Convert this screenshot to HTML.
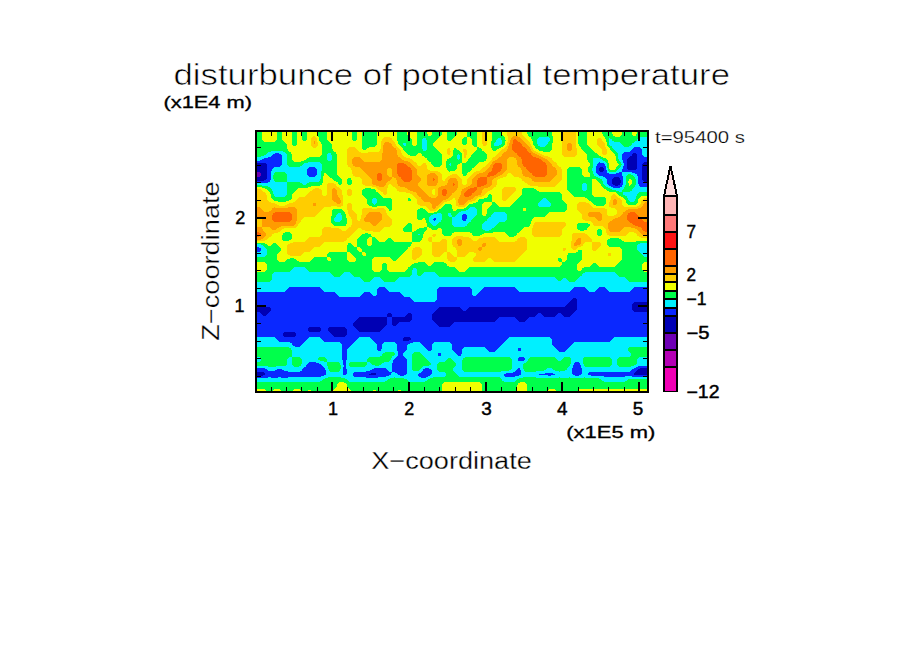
<!DOCTYPE html>
<html><head><meta charset="utf-8"><style>
html,body{margin:0;padding:0;background:#fff;}
body{width:904px;height:654px;overflow:hidden;}
svg{display:block;}
text{font-family:"Liberation Sans", sans-serif;fill:#000;}
</style></head><body>
<svg width="904" height="654" viewBox="0 0 904 654" shape-rendering="crispEdges">
<rect width="904" height="654" fill="#fff"/>
<g>
<path fill="#00ff4b" d="M257 132h5v1h-5zM277 132h5v1h-5zM292 132h5v1h-5zM302 132h5v1h-5zM317 132h10v1h-10zM352 132h5v1h-5zM362 132h15v1h-15zM397 132h10v1h-10zM417 132h10v1h-10zM432 132h10v1h-10zM447 132h10v1h-10zM467 132h10v1h-10zM492 132h10v1h-10zM527 132h25v1h-25zM578 132h9v1h-9zM602 132h10v1h-10zM622 132h10v1h-10zM637 132h10v1h-10zM257 133h5v1h-5zM277 133h5v1h-5zM292 133h5v1h-5zM302 133h5v1h-5zM317 133h10v1h-10zM352 133h5v1h-5zM362 133h15v1h-15zM397 133h10v1h-10zM417 133h10v1h-10zM432 133h10v1h-10zM447 133h10v1h-10zM467 133h10v1h-10zM492 133h10v1h-10zM527 133h25v1h-25zM578 133h9v1h-9zM602 133h10v1h-10zM622 133h10v1h-10zM637 133h10v1h-10zM257 134h5v1h-5zM277 134h5v1h-5zM292 134h5v1h-5zM302 134h5v1h-5zM317 134h10v1h-10zM352 134h5v1h-5zM362 134h15v1h-15zM397 134h10v1h-10zM417 134h11v1h-11zM432 134h10v1h-10zM447 134h10v1h-10zM467 134h10v1h-10zM492 134h10v1h-10zM528 134h24v1h-24zM578 134h9v1h-9zM603 134h10v1h-10zM622 134h10v1h-10zM636 134h11v1h-11zM257 135h5v1h-5zM277 135h5v1h-5zM292 135h5v1h-5zM302 135h5v1h-5zM318 135h9v1h-9zM352 135h5v1h-5zM362 135h15v1h-15zM397 135h11v1h-11zM417 135h11v1h-11zM431 135h10v1h-10zM447 135h9v1h-9zM467 135h10v1h-10zM492 135h11v1h-11zM528 135h24v1h-24zM578 135h9v1h-9zM603 135h10v1h-10zM621 135h12v1h-12zM636 135h11v1h-11zM257 136h5v1h-5zM277 136h5v1h-5zM292 136h5v1h-5zM302 136h5v1h-5zM318 136h9v1h-9zM352 136h5v1h-5zM362 136h15v1h-15zM397 136h12v1h-12zM417 136h23v1h-23zM447 136h8v1h-8zM467 136h10v1h-10zM492 136h12v1h-12zM529 136h24v1h-24zM578 136h9v1h-9zM604 136h11v1h-11zM620 136h27v1h-27zM257 137h5v1h-5zM277 137h5v1h-5zM292 137h5v1h-5zM302 137h5v1h-5zM319 137h8v1h-8zM352 137h5v1h-5zM362 137h15v1h-15zM397 137h13v1h-13zM417 137h22v1h-22zM447 137h7v1h-7zM464 137h3v1h-3zM470 137h7v1h-7zM492 137h13v1h-13zM531 137h8v1h-8zM549 137h4v1h-4zM578 137h9v1h-9zM605 137h35v1h-35zM257 138h5v1h-5zM277 138h5v1h-5zM292 138h5v1h-5zM302 138h5v1h-5zM319 138h8v1h-8zM352 138h5v1h-5zM362 138h15v1h-15zM397 138h14v1h-14zM417 138h6v1h-6zM426 138h12v1h-12zM447 138h6v1h-6zM463 138h4v1h-4zM471 138h6v1h-6zM492 138h6v1h-6zM501 138h4v1h-4zM531 138h7v1h-7zM550 138h3v1h-3zM578 138h9v1h-9zM605 138h4v1h-4zM610 138h28v1h-28zM257 139h5v1h-5zM277 139h5v1h-5zM292 139h5v1h-5zM302 139h5v1h-5zM319 139h8v1h-8zM352 139h5v1h-5zM362 139h15v1h-15zM397 139h15v1h-15zM417 139h5v1h-5zM426 139h11v1h-11zM447 139h5v1h-5zM462 139h5v1h-5zM472 139h5v1h-5zM492 139h5v1h-5zM501 139h4v1h-4zM532 139h5v1h-5zM550 139h3v1h-3zM578 139h9v1h-9zM606 139h3v1h-3zM612 139h25v1h-25zM257 140h6v1h-6zM276 140h7v1h-7zM292 140h5v1h-5zM303 140h3v1h-3zM319 140h9v1h-9zM353 140h3v1h-3zM362 140h15v1h-15zM397 140h15v1h-15zM417 140h5v1h-5zM427 140h9v1h-9zM448 140h3v1h-3zM462 140h5v1h-5zM472 140h5v1h-5zM492 140h4v1h-4zM502 140h4v1h-4zM532 140h5v1h-5zM550 140h3v1h-3zM578 140h9v1h-9zM606 140h3v1h-3zM612 140h25v1h-25zM257 141h7v1h-7zM275 141h9v1h-9zM292 141h5v1h-5zM320 141h9v1h-9zM362 141h15v1h-15zM398 141h14v1h-14zM417 141h5v1h-5zM427 141h8v1h-8zM462 141h5v1h-5zM472 141h5v1h-5zM491 141h5v1h-5zM502 141h3v1h-3zM533 141h4v1h-4zM549 141h4v1h-4zM578 141h9v1h-9zM606 141h3v1h-3zM614 141h21v1h-21zM257 142h28v1h-28zM292 142h5v1h-5zM321 142h9v1h-9zM362 142h15v1h-15zM398 142h14v1h-14zM417 142h5v1h-5zM427 142h7v1h-7zM462 142h5v1h-5zM472 142h5v1h-5zM491 142h4v1h-4zM502 142h3v1h-3zM533 142h4v1h-4zM548 142h5v1h-5zM578 142h9v1h-9zM607 142h2v1h-2zM620 142h14v1h-14zM257 143h29v1h-29zM292 143h5v1h-5zM321 143h10v1h-10zM362 143h15v1h-15zM398 143h5v1h-5zM406 143h6v1h-6zM417 143h5v1h-5zM427 143h6v1h-6zM462 143h5v1h-5zM472 143h5v1h-5zM491 143h3v1h-3zM502 143h3v1h-3zM533 143h4v1h-4zM548 143h4v1h-4zM578 143h9v1h-9zM607 143h2v1h-2zM621 143h11v1h-11zM257 144h30v1h-30zM292 144h5v1h-5zM322 144h10v1h-10zM362 144h15v1h-15zM399 144h4v1h-4zM406 144h6v1h-6zM417 144h5v1h-5zM427 144h6v1h-6zM463 144h3v1h-3zM472 144h5v1h-5zM491 144h3v1h-3zM501 144h4v1h-4zM533 144h5v1h-5zM547 144h5v1h-5zM579 144h8v1h-8zM607 144h2v1h-2zM622 144h10v1h-10zM257 145h30v1h-30zM293 145h3v1h-3zM322 145h10v1h-10zM362 145h14v1h-14zM400 145h4v1h-4zM406 145h7v1h-7zM416 145h6v1h-6zM427 145h6v1h-6zM473 145h4v1h-4zM491 145h3v1h-3zM499 145h5v1h-5zM534 145h4v1h-4zM546 145h6v1h-6zM579 145h9v1h-9zM607 145h3v1h-3zM623 145h8v1h-8zM257 146h30v1h-30zM322 146h10v1h-10zM362 146h13v1h-13zM401 146h21v1h-21zM427 146h7v1h-7zM474 146h3v1h-3zM491 146h12v1h-12zM535 146h5v1h-5zM545 146h7v1h-7zM580 146h9v1h-9zM608 146h4v1h-4zM624 146h5v1h-5zM257 147h30v1h-30zM322 147h10v1h-10zM362 147h7v1h-7zM402 147h20v1h-20zM427 147h8v1h-8zM477 147h2v1h-2zM491 147h10v1h-10zM535 147h17v1h-17zM581 147h9v1h-9zM609 147h3v1h-3zM257 148h30v1h-30zM322 148h10v1h-10zM362 148h5v1h-5zM403 148h19v1h-19zM427 148h9v1h-9zM454 148h2v1h-2zM477 148h4v1h-4zM492 148h7v1h-7zM536 148h16v1h-16zM581 148h10v1h-10zM610 148h3v1h-3zM257 149h31v1h-31zM322 149h11v1h-11zM363 149h3v1h-3zM403 149h20v1h-20zM427 149h10v1h-10zM454 149h3v1h-3zM477 149h5v1h-5zM492 149h5v1h-5zM538 149h14v1h-14zM582 149h10v1h-10zM610 149h4v1h-4zM257 150h31v1h-31zM322 150h11v1h-11zM404 150h19v1h-19zM426 150h12v1h-12zM453 150h6v1h-6zM476 150h6v1h-6zM493 150h3v1h-3zM539 150h12v1h-12zM583 150h10v1h-10zM611 150h4v1h-4zM257 151h14v1h-14zM283 151h6v1h-6zM322 151h12v1h-12zM405 151h34v1h-34zM453 151h7v1h-7zM475 151h9v1h-9zM543 151h7v1h-7zM584 151h10v1h-10zM612 151h4v1h-4zM257 152h11v1h-11zM285 152h6v1h-6zM322 152h14v1h-14zM406 152h34v1h-34zM453 152h8v1h-8zM474 152h11v1h-11zM585 152h10v1h-10zM613 152h4v1h-4zM257 153h10v1h-10zM286 153h5v1h-5zM322 153h6v1h-6zM331 153h5v1h-5zM407 153h11v1h-11zM421 153h20v1h-20zM453 153h9v1h-9zM473 153h13v1h-13zM586 153h11v1h-11zM614 153h4v1h-4zM257 154h9v1h-9zM287 154h5v1h-5zM322 154h5v1h-5zM331 154h6v1h-6zM408 154h9v1h-9zM422 154h20v1h-20zM453 154h5v1h-5zM459 154h3v1h-3zM472 154h15v1h-15zM587 154h11v1h-11zM615 154h3v1h-3zM257 155h7v1h-7zM287 155h5v1h-5zM321 155h6v1h-6zM332 155h5v1h-5zM410 155h6v1h-6zM422 155h20v1h-20zM453 155h4v1h-4zM460 155h2v1h-2zM471 155h16v1h-16zM587 155h12v1h-12zM615 155h3v1h-3zM257 156h4v1h-4zM287 156h5v1h-5zM320 156h7v1h-7zM332 156h5v1h-5zM424 156h18v1h-18zM452 156h5v1h-5zM460 156h2v1h-2zM471 156h16v1h-16zM587 156h14v1h-14zM616 156h2v1h-2zM287 157h5v1h-5zM309 157h18v1h-18zM332 157h5v1h-5zM425 157h17v1h-17zM451 157h6v1h-6zM460 157h2v1h-2zM470 157h17v1h-17zM587 157h16v1h-16zM616 157h2v1h-2zM287 158h5v1h-5zM307 158h20v1h-20zM332 158h5v1h-5zM427 158h15v1h-15zM449 158h8v1h-8zM460 158h2v1h-2zM469 158h18v1h-18zM587 158h6v1h-6zM600 158h6v1h-6zM616 158h2v1h-2zM287 159h5v1h-5zM306 159h21v1h-21zM332 159h5v1h-5zM427 159h15v1h-15zM447 159h11v1h-11zM459 159h3v1h-3zM468 159h18v1h-18zM587 159h6v1h-6zM602 159h5v1h-5zM616 159h3v1h-3zM287 160h6v1h-6zM304 160h24v1h-24zM331 160h6v1h-6zM428 160h14v1h-14zM447 160h15v1h-15zM468 160h18v1h-18zM588 160h5v1h-5zM603 160h5v1h-5zM616 160h3v1h-3zM287 161h7v1h-7zM301 161h36v1h-36zM429 161h13v1h-13zM446 161h16v1h-16zM467 161h17v1h-17zM588 161h5v1h-5zM605 161h3v1h-3zM617 161h3v1h-3zM287 162h21v1h-21zM320 162h17v1h-17zM431 162h11v1h-11zM446 162h16v1h-16zM466 162h13v1h-13zM589 162h4v1h-4zM606 162h2v1h-2zM617 162h4v1h-4zM287 163h17v1h-17zM321 163h16v1h-16zM431 163h11v1h-11zM446 163h4v1h-4zM451 163h9v1h-9zM462 163h16v1h-16zM590 163h3v1h-3zM607 163h2v1h-2zM618 163h3v1h-3zM287 164h16v1h-16zM322 164h15v1h-15zM432 164h10v1h-10zM446 164h3v1h-3zM451 164h7v1h-7zM462 164h15v1h-15zM590 164h3v1h-3zM607 164h2v1h-2zM619 164h3v1h-3zM288 165h14v1h-14zM322 165h15v1h-15zM433 165h8v1h-8zM446 165h4v1h-4zM451 165h6v1h-6zM462 165h14v1h-14zM590 165h3v1h-3zM607 165h2v1h-2zM618 165h3v1h-3zM289 166h11v1h-11zM322 166h15v1h-15zM434 166h6v1h-6zM446 166h11v1h-11zM462 166h13v1h-13zM589 166h4v1h-4zM607 166h2v1h-2zM617 166h4v1h-4zM322 167h15v1h-15zM446 167h11v1h-11zM462 167h12v1h-12zM569 167h11v1h-11zM588 167h5v1h-5zM607 167h2v1h-2zM616 167h4v1h-4zM322 168h15v1h-15zM447 168h10v1h-10zM462 168h10v1h-10zM568 168h13v1h-13zM588 168h4v1h-4zM608 168h1v1h-1zM616 168h3v1h-3zM322 169h15v1h-15zM447 169h9v1h-9zM462 169h10v1h-10zM567 169h15v1h-15zM588 169h4v1h-4zM608 169h2v1h-2zM615 169h3v1h-3zM322 170h15v1h-15zM448 170h7v1h-7zM462 170h9v1h-9zM567 170h15v1h-15zM588 170h4v1h-4zM608 170h9v1h-9zM321 171h16v1h-16zM449 171h1v1h-1zM462 171h8v1h-8zM567 171h15v1h-15zM588 171h5v1h-5zM609 171h7v1h-7zM275 172h10v1h-10zM321 172h16v1h-16zM462 172h6v1h-6zM567 172h15v1h-15zM589 172h4v1h-4zM274 173h12v1h-12zM321 173h3v1h-3zM326 173h11v1h-11zM462 173h5v1h-5zM567 173h15v1h-15zM590 173h3v1h-3zM274 174h13v1h-13zM321 174h3v1h-3zM327 174h10v1h-10zM463 174h4v1h-4zM567 174h15v1h-15zM590 174h4v1h-4zM628 174h3v1h-3zM273 175h14v1h-14zM321 175h3v1h-3zM328 175h10v1h-10zM463 175h3v1h-3zM567 175h16v1h-16zM590 175h4v1h-4zM627 175h6v1h-6zM273 176h14v1h-14zM321 176h2v1h-2zM329 176h10v1h-10zM567 176h17v1h-17zM590 176h6v1h-6zM626 176h8v1h-8zM273 177h14v1h-14zM321 177h2v1h-2zM330 177h10v1h-10zM567 177h31v1h-31zM626 177h9v1h-9zM273 178h14v1h-14zM321 178h2v1h-2zM332 178h9v1h-9zM348 178h3v1h-3zM567 178h33v1h-33zM626 178h9v1h-9zM274 179h13v1h-13zM320 179h3v1h-3zM333 179h9v1h-9zM347 179h4v1h-4zM567 179h25v1h-25zM596 179h6v1h-6zM626 179h3v1h-3zM631 179h5v1h-5zM274 180h13v1h-13zM320 180h3v1h-3zM334 180h8v1h-8zM347 180h5v1h-5zM567 180h25v1h-25zM597 180h5v1h-5zM626 180h3v1h-3zM632 180h4v1h-4zM275 181h12v1h-12zM319 181h4v1h-4zM336 181h6v1h-6zM347 181h5v1h-5zM567 181h25v1h-25zM598 181h5v1h-5zM626 181h2v1h-2zM632 181h4v1h-4zM287 182h13v1h-13zM309 182h14v1h-14zM338 182h4v1h-4zM347 182h5v1h-5zM567 182h25v1h-25zM599 182h4v1h-4zM626 182h2v1h-2zM632 182h4v1h-4zM287 183h15v1h-15zM307 183h15v1h-15zM338 183h4v1h-4zM347 183h5v1h-5zM567 183h16v1h-16zM586 183h6v1h-6zM600 183h3v1h-3zM626 183h3v1h-3zM632 183h4v1h-4zM287 184h16v1h-16zM306 184h16v1h-16zM339 184h2v1h-2zM348 184h3v1h-3zM567 184h15v1h-15zM587 184h5v1h-5zM601 184h3v1h-3zM626 184h3v1h-3zM631 184h5v1h-5zM257 185h5v1h-5zM287 185h33v1h-33zM567 185h15v1h-15zM587 185h5v1h-5zM601 185h4v1h-4zM625 185h4v1h-4zM630 185h5v1h-5zM257 186h11v1h-11zM287 186h24v1h-24zM567 186h15v1h-15zM587 186h5v1h-5zM602 186h4v1h-4zM625 186h10v1h-10zM262 187h8v1h-8zM287 187h21v1h-21zM567 187h15v1h-15zM587 187h5v1h-5zM603 187h5v1h-5zM624 187h10v1h-10zM265 188h6v1h-6zM287 188h11v1h-11zM365 188h6v1h-6zM523 188h11v1h-11zM567 188h15v1h-15zM587 188h5v1h-5zM604 188h6v1h-6zM624 188h9v1h-9zM267 189h5v1h-5zM287 189h10v1h-10zM363 189h12v1h-12zM522 189h14v1h-14zM567 189h15v1h-15zM587 189h5v1h-5zM606 189h6v1h-6zM623 189h9v1h-9zM268 190h4v1h-4zM287 190h9v1h-9zM362 190h14v1h-14zM522 190h15v1h-15zM568 190h15v1h-15zM586 190h6v1h-6zM607 190h9v1h-9zM622 190h10v1h-10zM269 191h4v1h-4zM287 191h8v1h-8zM362 191h14v1h-14zM522 191h17v1h-17zM569 191h23v1h-23zM609 191h10v1h-10zM622 191h8v1h-8zM270 192h3v1h-3zM287 192h7v1h-7zM362 192h16v1h-16zM522 192h38v1h-38zM570 192h22v1h-22zM616 192h7v1h-7zM639 192h8v1h-8zM270 193h3v1h-3zM287 193h6v1h-6zM362 193h17v1h-17zM522 193h39v1h-39zM571 193h21v1h-21zM617 193h6v1h-6zM638 193h9v1h-9zM271 194h3v1h-3zM287 194h5v1h-5zM362 194h18v1h-18zM489 194h2v1h-2zM522 194h40v1h-40zM572 194h20v1h-20zM618 194h5v1h-5zM637 194h10v1h-10zM271 195h3v1h-3zM286 195h6v1h-6zM363 195h18v1h-18zM488 195h4v1h-4zM521 195h41v1h-41zM573 195h20v1h-20zM619 195h6v1h-6zM637 195h10v1h-10zM271 196h4v1h-4zM285 196h7v1h-7zM364 196h18v1h-18zM488 196h4v1h-4zM520 196h42v1h-42zM574 196h20v1h-20zM621 196h6v1h-6zM636 196h5v1h-5zM271 197h21v1h-21zM365 197h18v1h-18zM487 197h5v1h-5zM519 197h43v1h-43zM585 197h20v1h-20zM623 197h4v1h-4zM636 197h4v1h-4zM272 198h20v1h-20zM366 198h7v1h-7zM376 198h15v1h-15zM408 198h2v1h-2zM484 198h8v1h-8zM518 198h25v1h-25zM546 198h16v1h-16zM587 198h19v1h-19zM624 198h4v1h-4zM636 198h3v1h-3zM273 199h18v1h-18zM367 199h5v1h-5zM377 199h15v1h-15zM408 199h3v1h-3zM479 199h13v1h-13zM517 199h25v1h-25zM547 199h15v1h-15zM588 199h18v1h-18zM625 199h3v1h-3zM635 199h3v1h-3zM274 200h15v1h-15zM367 200h5v1h-5zM377 200h15v1h-15zM408 200h3v1h-3zM478 200h14v1h-14zM516 200h25v1h-25zM548 200h15v1h-15zM589 200h17v1h-17zM626 200h3v1h-3zM635 200h3v1h-3zM278 201h8v1h-8zM367 201h5v1h-5zM377 201h15v1h-15zM478 201h14v1h-14zM515 201h25v1h-25zM549 201h15v1h-15zM591 201h15v1h-15zM626 201h4v1h-4zM634 201h4v1h-4zM367 202h5v1h-5zM377 202h15v1h-15zM476 202h8v1h-8zM492 202h3v1h-3zM514 202h25v1h-25zM550 202h15v1h-15zM592 202h14v1h-14zM626 202h12v1h-12zM367 203h6v1h-6zM376 203h16v1h-16zM473 203h10v1h-10zM492 203h4v1h-4zM513 203h25v1h-25zM551 203h15v1h-15zM593 203h13v1h-13zM627 203h10v1h-10zM368 204h6v1h-6zM375 204h17v1h-17zM445 204h6v1h-6zM469 204h13v1h-13zM492 204h5v1h-5zM512 204h26v1h-26zM551 204h16v1h-16zM594 204h11v1h-11zM628 204h8v1h-8zM369 205h23v1h-23zM444 205h8v1h-8zM468 205h14v1h-14zM491 205h7v1h-7zM511 205h27v1h-27zM551 205h16v1h-16zM596 205h8v1h-8zM372 206h5v1h-5zM386 206h6v1h-6zM443 206h9v1h-9zM467 206h15v1h-15zM490 206h9v1h-9zM510 206h29v1h-29zM550 206h17v1h-17zM387 207h5v1h-5zM442 207h10v1h-10zM466 207h4v1h-4zM475 207h7v1h-7zM489 207h78v1h-78zM388 208h4v1h-4zM420 208h3v1h-3zM441 208h11v1h-11zM464 208h5v1h-5zM476 208h6v1h-6zM488 208h35v1h-35zM526 208h41v1h-41zM333 209h9v1h-9zM389 209h3v1h-3zM418 209h7v1h-7zM439 209h14v1h-14zM457 209h11v1h-11zM477 209h5v1h-5zM487 209h36v1h-36zM526 209h41v1h-41zM332 210h11v1h-11zM389 210h2v1h-2zM417 210h9v1h-9zM438 210h15v1h-15zM456 210h10v1h-10zM477 210h5v1h-5zM487 210h36v1h-36zM526 210h40v1h-40zM332 211h12v1h-12zM417 211h10v1h-10zM437 211h24v1h-24zM477 211h5v1h-5zM487 211h78v1h-78zM332 212h13v1h-13zM417 212h11v1h-11zM434 212h25v1h-25zM477 212h5v1h-5zM487 212h7v1h-7zM505 212h44v1h-44zM332 213h6v1h-6zM341 213h4v1h-4zM417 213h20v1h-20zM441 213h7v1h-7zM451 213h7v1h-7zM477 213h5v1h-5zM487 213h6v1h-6zM506 213h42v1h-42zM332 214h5v1h-5zM341 214h5v1h-5zM417 214h16v1h-16zM442 214h6v1h-6zM451 214h6v1h-6zM477 214h5v1h-5zM486 214h6v1h-6zM507 214h40v1h-40zM332 215h4v1h-4zM342 215h4v1h-4zM417 215h14v1h-14zM442 215h6v1h-6zM452 215h4v1h-4zM476 215h7v1h-7zM486 215h5v1h-5zM507 215h39v1h-39zM331 216h5v1h-5zM342 216h4v1h-4zM417 216h13v1h-13zM442 216h7v1h-7zM452 216h3v1h-3zM475 216h16v1h-16zM507 216h38v1h-38zM331 217h4v1h-4zM342 217h4v1h-4zM417 217h12v1h-12zM442 217h10v1h-10zM474 217h15v1h-15zM507 217h27v1h-27zM331 218h3v1h-3zM342 218h5v1h-5zM417 218h6v1h-6zM425 218h4v1h-4zM442 218h10v1h-10zM473 218h15v1h-15zM507 218h26v1h-26zM331 219h3v1h-3zM342 219h5v1h-5zM418 219h4v1h-4zM425 219h4v1h-4zM442 219h10v1h-10zM472 219h15v1h-15zM507 219h25v1h-25zM331 220h3v1h-3zM341 220h6v1h-6zM426 220h3v1h-3zM441 220h11v1h-11zM471 220h16v1h-16zM506 220h26v1h-26zM331 221h4v1h-4zM340 221h7v1h-7zM426 221h3v1h-3zM441 221h11v1h-11zM471 221h14v1h-14zM505 221h26v1h-26zM331 222h16v1h-16zM426 222h4v1h-4zM439 222h13v1h-13zM469 222h15v1h-15zM499 222h32v1h-32zM332 223h15v1h-15zM408 223h3v1h-3zM427 223h4v1h-4zM438 223h14v1h-14zM468 223h15v1h-15zM498 223h33v1h-33zM578 223h10v1h-10zM333 224h13v1h-13zM407 224h5v1h-5zM427 224h5v1h-5zM437 224h15v1h-15zM467 224h15v1h-15zM497 224h33v1h-33zM577 224h13v1h-13zM334 225h12v1h-12zM406 225h6v1h-6zM427 225h6v1h-6zM436 225h17v1h-17zM467 225h15v1h-15zM496 225h34v1h-34zM577 225h13v1h-13zM405 226h7v1h-7zM427 226h27v1h-27zM465 226h17v1h-17zM495 226h34v1h-34zM577 226h12v1h-12zM404 227h8v1h-8zM424 227h3v1h-3zM429 227h53v1h-53zM494 227h30v1h-30zM577 227h11v1h-11zM403 228h9v1h-9zM419 228h8v1h-8zM431 228h7v1h-7zM441 228h41v1h-41zM492 228h31v1h-31zM577 228h10v1h-10zM403 229h9v1h-9zM417 229h10v1h-10zM432 229h5v1h-5zM442 229h41v1h-41zM491 229h31v1h-31zM578 229h9v1h-9zM598 229h3v1h-3zM403 230h9v1h-9zM416 230h10v1h-10zM442 230h43v1h-43zM489 230h32v1h-32zM580 230h4v1h-4zM597 230h5v1h-5zM404 231h8v1h-8zM414 231h11v1h-11zM442 231h78v1h-78zM597 231h5v1h-5zM285 232h5v1h-5zM412 232h12v1h-12zM442 232h12v1h-12zM470 232h23v1h-23zM505 232h14v1h-14zM597 232h5v1h-5zM283 233h8v1h-8zM365 233h3v1h-3zM412 233h12v1h-12zM442 233h10v1h-10zM472 233h12v1h-12zM506 233h11v1h-11zM597 233h5v1h-5zM283 234h9v1h-9zM362 234h9v1h-9zM412 234h6v1h-6zM420 234h3v1h-3zM443 234h9v1h-9zM472 234h10v1h-10zM507 234h10v1h-10zM597 234h5v1h-5zM282 235h10v1h-10zM361 235h10v1h-10zM412 235h11v1h-11zM444 235h7v1h-7zM473 235h7v1h-7zM508 235h8v1h-8zM598 235h3v1h-3zM282 236h10v1h-10zM360 236h12v1h-12zM412 236h11v1h-11zM509 236h5v1h-5zM282 237h10v1h-10zM359 237h10v1h-10zM372 237h3v1h-3zM412 237h11v1h-11zM282 238h10v1h-10zM358 238h10v1h-10zM372 238h4v1h-4zM388 238h3v1h-3zM412 238h10v1h-10zM610 238h9v1h-9zM282 239h9v1h-9zM357 239h10v1h-10zM372 239h5v1h-5zM387 239h5v1h-5zM412 239h10v1h-10zM608 239h13v1h-13zM283 240h6v1h-6zM357 240h10v1h-10zM372 240h6v1h-6zM386 240h7v1h-7zM412 240h9v1h-9zM607 240h15v1h-15zM357 241h10v1h-10zM372 241h7v1h-7zM385 241h9v1h-9zM412 241h8v1h-8zM607 241h17v1h-17zM636 241h11v1h-11zM357 242h10v1h-10zM372 242h40v1h-40zM607 242h40v1h-40zM257 243h8v1h-8zM273 243h3v1h-3zM348 243h3v1h-3zM357 243h10v1h-10zM372 243h40v1h-40zM607 243h33v1h-33zM261 244h6v1h-6zM272 244h5v1h-5zM348 244h4v1h-4zM357 244h10v1h-10zM372 244h39v1h-39zM607 244h31v1h-31zM263 245h5v1h-5zM271 245h7v1h-7zM347 245h6v1h-6zM357 245h11v1h-11zM371 245h40v1h-40zM608 245h29v1h-29zM264 246h15v1h-15zM347 246h7v1h-7zM357 246h53v1h-53zM609 246h28v1h-28zM265 247h15v1h-15zM347 247h10v1h-10zM360 247h48v1h-48zM620 247h17v1h-17zM266 248h15v1h-15zM347 248h10v1h-10zM361 248h47v1h-47zM621 248h16v1h-16zM267 249h14v1h-14zM347 249h10v1h-10zM362 249h45v1h-45zM622 249h15v1h-15zM267 250h14v1h-14zM347 250h11v1h-11zM362 250h44v1h-44zM578 250h4v1h-4zM622 250h16v1h-16zM267 251h13v1h-13zM347 251h12v1h-12zM362 251h43v1h-43zM578 251h4v1h-4zM622 251h17v1h-17zM267 252h12v1h-12zM329 252h18v1h-18zM350 252h12v1h-12zM365 252h39v1h-39zM576 252h6v1h-6zM622 252h18v1h-18zM267 253h11v1h-11zM328 253h19v1h-19zM351 253h11v1h-11zM366 253h37v1h-37zM568 253h14v1h-14zM622 253h19v1h-19zM267 254h10v1h-10zM327 254h20v1h-20zM352 254h10v1h-10zM366 254h36v1h-36zM568 254h14v1h-14zM622 254h20v1h-20zM266 255h11v1h-11zM327 255h20v1h-20zM353 255h10v1h-10zM366 255h35v1h-35zM567 255h15v1h-15zM622 255h21v1h-21zM265 256h12v1h-12zM327 256h20v1h-20zM354 256h46v1h-46zM567 256h15v1h-15zM622 256h22v1h-22zM257 257h20v1h-20zM314 257h13v1h-13zM330 257h17v1h-17zM355 257h19v1h-19zM390 257h9v1h-9zM567 257h15v1h-15zM622 257h25v1h-25zM257 258h20v1h-20zM290 258h4v1h-4zM313 258h14v1h-14zM331 258h16v1h-16zM356 258h17v1h-17zM391 258h7v1h-7zM558 258h3v1h-3zM567 258h15v1h-15zM622 258h25v1h-25zM257 259h20v1h-20zM287 259h9v1h-9zM312 259h15v1h-15zM331 259h16v1h-16zM356 259h16v1h-16zM392 259h5v1h-5zM558 259h4v1h-4zM567 259h15v1h-15zM622 259h25v1h-25zM257 260h21v1h-21zM286 260h11v1h-11zM311 260h17v1h-17zM331 260h17v1h-17zM356 260h16v1h-16zM393 260h3v1h-3zM558 260h4v1h-4zM566 260h15v1h-15zM621 260h26v1h-26zM257 261h22v1h-22zM285 261h14v1h-14zM310 261h39v1h-39zM355 261h17v1h-17zM559 261h3v1h-3zM565 261h15v1h-15zM620 261h27v1h-27zM265 262h107v1h-107zM418 262h7v1h-7zM434 262h10v1h-10zM562 262h17v1h-17zM619 262h25v1h-25zM266 263h106v1h-106zM383 263h3v1h-3zM414 263h12v1h-12zM433 263h13v1h-13zM562 263h16v1h-16zM593 263h3v1h-3zM618 263h25v1h-25zM267 264h105v1h-105zM382 264h5v1h-5zM412 264h15v1h-15zM432 264h15v1h-15zM562 264h15v1h-15zM592 264h5v1h-5zM617 264h25v1h-25zM267 265h105v1h-105zM382 265h5v1h-5zM411 265h17v1h-17zM431 265h16v1h-16zM561 265h16v1h-16zM591 265h7v1h-7zM616 265h26v1h-26zM267 266h105v1h-105zM382 266h5v1h-5zM410 266h39v1h-39zM560 266h17v1h-17zM590 266h9v1h-9zM615 266h27v1h-27zM267 267h27v1h-27zM305 267h67v1h-67zM382 267h5v1h-5zM408 267h47v1h-47zM469 267h108v1h-108zM584 267h58v1h-58zM267 268h26v1h-26zM306 268h66v1h-66zM382 268h5v1h-5zM408 268h5v1h-5zM416 268h40v1h-40zM468 268h109v1h-109zM582 268h60v1h-60zM267 269h25v1h-25zM307 269h65v1h-65zM382 269h5v1h-5zM407 269h6v1h-6zM417 269h40v1h-40zM467 269h110v1h-110zM582 269h60v1h-60zM266 270h25v1h-25zM308 270h65v1h-65zM381 270h7v1h-7zM406 270h6v1h-6zM417 270h41v1h-41zM466 270h112v1h-112zM581 270h62v1h-62zM265 271h25v1h-25zM309 271h65v1h-65zM380 271h9v1h-9zM405 271h7v1h-7zM417 271h42v1h-42zM465 271h179v1h-179zM257 272h17v1h-17zM330 272h14v1h-14zM350 272h62v1h-62zM417 272h7v1h-7zM435 272h150v1h-150zM615 272h32v1h-32zM257 273h16v1h-16zM331 273h12v1h-12zM351 273h61v1h-61zM417 273h6v1h-6zM436 273h147v1h-147zM616 273h31v1h-31zM257 274h15v1h-15zM332 274h10v1h-10zM352 274h60v1h-60zM417 274h5v1h-5zM437 274h145v1h-145zM617 274h30v1h-30zM257 275h15v1h-15zM333 275h8v1h-8zM353 275h58v1h-58zM418 275h3v1h-3zM438 275h144v1h-144zM618 275h29v1h-29zM257 276h15v1h-15zM334 276h6v1h-6zM354 276h56v1h-56zM439 276h141v1h-141zM619 276h28v1h-28zM257 277h15v1h-15zM360 277h14v1h-14zM380 277h19v1h-19zM555 277h24v1h-24zM625 277h22v1h-22zM257 278h15v1h-15zM361 278h12v1h-12zM381 278h17v1h-17zM556 278h7v1h-7zM566 278h12v1h-12zM626 278h21v1h-21zM257 279h15v1h-15zM362 279h10v1h-10zM382 279h15v1h-15zM557 279h5v1h-5zM567 279h10v1h-10zM627 279h20v1h-20zM257 280h14v1h-14zM363 280h8v1h-8zM383 280h13v1h-13zM558 280h3v1h-3zM568 280h8v1h-8zM628 280h19v1h-19zM257 281h13v1h-13zM364 281h6v1h-6zM384 281h11v1h-11zM569 281h6v1h-6zM629 281h18v1h-18zM257 347h32v1h-32zM629 347h18v1h-18zM257 348h34v1h-34zM628 348h19v1h-19zM257 349h34v1h-34zM628 349h19v1h-19zM257 350h35v1h-35zM628 350h19v1h-19zM257 351h35v1h-35zM629 351h18v1h-18zM257 352h35v1h-35zM385 352h9v1h-9zM414 352h6v1h-6zM630 352h17v1h-17zM257 353h35v1h-35zM383 353h12v1h-12zM413 353h8v1h-8zM631 353h16v1h-16zM257 354h35v1h-35zM382 354h13v1h-13zM412 354h10v1h-10zM631 354h16v1h-16zM257 355h35v1h-35zM382 355h12v1h-12zM412 355h11v1h-11zM631 355h16v1h-16zM257 356h35v1h-35zM380 356h12v1h-12zM412 356h12v1h-12zM630 356h17v1h-17zM260 357h29v1h-29zM292 357h8v1h-8zM319 357h6v1h-6zM369 357h23v1h-23zM412 357h13v1h-13zM465 357h45v1h-45zM530 357h25v1h-25zM564 357h6v1h-6zM584 357h26v1h-26zM619 357h20v1h-20zM261 358h27v1h-27zM292 358h9v1h-9zM318 358h8v1h-8zM368 358h23v1h-23zM412 358h14v1h-14zM448 358h3v1h-3zM463 358h48v1h-48zM529 358h27v1h-27zM563 358h8v1h-8zM583 358h28v1h-28zM618 358h20v1h-20zM261 359h26v1h-26zM292 359h10v1h-10zM318 359h9v1h-9zM367 359h24v1h-24zM412 359h15v1h-15zM447 359h5v1h-5zM463 359h49v1h-49zM528 359h29v1h-29zM562 359h9v1h-9zM583 359h29v1h-29zM617 359h20v1h-20zM261 360h26v1h-26zM292 360h10v1h-10zM320 360h7v1h-7zM367 360h23v1h-23zM412 360h16v1h-16zM446 360h7v1h-7zM462 360h50v1h-50zM528 360h30v1h-30zM561 360h10v1h-10zM583 360h29v1h-29zM617 360h20v1h-20zM260 361h27v1h-27zM292 361h10v1h-10zM324 361h3v1h-3zM367 361h22v1h-22zM412 361h17v1h-17zM445 361h9v1h-9zM462 361h50v1h-50zM527 361h44v1h-44zM583 361h29v1h-29zM617 361h20v1h-20zM257 362h30v1h-30zM292 362h10v1h-10zM327 362h12v1h-12zM350 362h17v1h-17zM370 362h14v1h-14zM412 362h18v1h-18zM439 362h16v1h-16zM462 362h50v1h-50zM526 362h45v1h-45zM583 362h29v1h-29zM617 362h20v1h-20zM257 363h30v1h-30zM292 363h10v1h-10zM327 363h13v1h-13zM349 363h18v1h-18zM371 363h11v1h-11zM412 363h19v1h-19zM438 363h18v1h-18zM462 363h50v1h-50zM524 363h47v1h-47zM583 363h29v1h-29zM617 363h20v1h-20zM257 364h30v1h-30zM292 364h9v1h-9zM327 364h13v1h-13zM349 364h18v1h-18zM372 364h9v1h-9zM412 364h19v1h-19zM437 364h19v1h-19zM462 364h50v1h-50zM523 364h47v1h-47zM584 364h28v1h-28zM617 364h19v1h-19zM257 365h29v1h-29zM293 365h8v1h-8zM327 365h14v1h-14zM349 365h17v1h-17zM375 365h4v1h-4zM412 365h17v1h-17zM437 365h19v1h-19zM462 365h50v1h-50zM523 365h47v1h-47zM584 365h27v1h-27zM618 365h16v1h-16zM268 366h8v1h-8zM294 366h5v1h-5zM328 366h13v1h-13zM350 366h15v1h-15zM412 366h11v1h-11zM437 366h18v1h-18zM462 366h50v1h-50zM523 366h46v1h-46zM585 366h25v1h-25zM619 366h12v1h-12zM328 367h13v1h-13zM412 367h10v1h-10zM437 367h17v1h-17zM462 367h50v1h-50zM523 367h45v1h-45zM328 368h13v1h-13zM412 368h9v1h-9zM437 368h16v1h-16zM462 368h50v1h-50zM523 368h24v1h-24zM552 368h15v1h-15zM329 369h11v1h-11zM412 369h8v1h-8zM437 369h16v1h-16zM462 369h49v1h-49zM524 369h22v1h-22zM553 369h14v1h-14zM329 370h11v1h-11zM413 370h6v1h-6zM438 370h15v1h-15zM463 370h46v1h-46zM524 370h20v1h-20zM555 370h10v1h-10zM330 371h9v1h-9zM439 371h15v1h-15zM464 371h37v1h-37zM525 371h11v1h-11zM559 371h1v1h-1zM445 372h10v1h-10zM446 373h10v1h-10zM446 374h11v1h-11zM446 375h12v1h-12zM445 376h14v1h-14zM328 377h13v1h-13zM394 377h1v1h-1zM433 377h67v1h-67zM523 377h13v1h-13zM559 377h1v1h-1zM569 377h1v1h-1zM584 377h1v1h-1zM325 378h20v1h-20zM390 378h14v1h-14zM430 378h71v1h-71zM519 378h80v1h-80zM323 379h24v1h-24zM388 379h19v1h-19zM428 379h74v1h-74zM517 379h84v1h-84zM628 379h19v1h-19zM322 380h26v1h-26zM387 380h21v1h-21zM427 380h75v1h-75zM516 380h86v1h-86zM627 380h20v1h-20zM320 381h29v1h-29zM385 381h24v1h-24zM425 381h79v1h-79zM515 381h89v1h-89zM625 381h22v1h-22zM257 382h82v1h-82zM344 382h100v1h-100zM480 382h40v1h-40zM525 382h122v1h-122zM257 383h81v1h-81zM346 383h97v1h-97zM481 383h37v1h-37zM526 383h121v1h-121zM257 384h80v1h-80zM347 384h95v1h-95zM482 384h36v1h-36zM527 384h120v1h-120zM257 385h80v1h-80zM347 385h95v1h-95zM482 385h35v1h-35zM527 385h120v1h-120zM257 386h80v1h-80zM347 386h95v1h-95zM482 386h35v1h-35zM527 386h120v1h-120zM257 387h79v1h-79zM348 387h94v1h-94zM482 387h35v1h-35zM527 387h120v1h-120zM257 388h78v1h-78zM349 388h93v1h-93zM482 388h35v1h-35zM527 388h120v1h-120zM265 389h9v1h-9zM280 389h14v1h-14zM300 389h34v1h-34zM350 389h92v1h-92zM482 389h35v1h-35zM527 389h22v1h-22zM555 389h24v1h-24zM266 390h7v1h-7zM281 390h12v1h-12zM301 390h7v1h-7zM311 390h22v1h-22zM351 390h22v1h-22zM376 390h22v1h-22zM401 390h41v1h-41zM482 390h35v1h-35zM527 390h21v1h-21zM556 390h22v1h-22z"/>
<path fill="#f0ff00" d="M262 132h15v1h-15zM282 132h10v1h-10zM297 132h5v1h-5zM307 132h10v1h-10zM327 132h25v1h-25zM357 132h5v1h-5zM377 132h20v1h-20zM407 132h10v1h-10zM427 132h5v1h-5zM442 132h5v1h-5zM457 132h10v1h-10zM477 132h5v1h-5zM487 132h5v1h-5zM502 132h5v1h-5zM522 132h5v1h-5zM552 132h10v1h-10zM576 132h2v1h-2zM587 132h15v1h-15zM612 132h10v1h-10zM632 132h5v1h-5zM262 133h15v1h-15zM282 133h10v1h-10zM297 133h5v1h-5zM307 133h10v1h-10zM327 133h25v1h-25zM357 133h5v1h-5zM377 133h20v1h-20zM407 133h10v1h-10zM427 133h5v1h-5zM442 133h5v1h-5zM457 133h10v1h-10zM477 133h5v1h-5zM487 133h5v1h-5zM502 133h5v1h-5zM522 133h5v1h-5zM552 133h10v1h-10zM576 133h2v1h-2zM587 133h15v1h-15zM612 133h10v1h-10zM632 133h5v1h-5zM262 134h15v1h-15zM282 134h10v1h-10zM297 134h5v1h-5zM307 134h10v1h-10zM327 134h25v1h-25zM357 134h5v1h-5zM377 134h20v1h-20zM407 134h10v1h-10zM428 134h4v1h-4zM442 134h5v1h-5zM457 134h10v1h-10zM477 134h5v1h-5zM487 134h5v1h-5zM502 134h5v1h-5zM522 134h6v1h-6zM552 134h10v1h-10zM576 134h2v1h-2zM587 134h16v1h-16zM613 134h9v1h-9zM632 134h4v1h-4zM262 135h15v1h-15zM282 135h10v1h-10zM297 135h5v1h-5zM307 135h11v1h-11zM327 135h25v1h-25zM357 135h5v1h-5zM377 135h20v1h-20zM408 135h9v1h-9zM428 135h3v1h-3zM441 135h6v1h-6zM456 135h11v1h-11zM477 135h5v1h-5zM487 135h5v1h-5zM503 135h4v1h-4zM523 135h5v1h-5zM552 135h10v1h-10zM576 135h2v1h-2zM587 135h16v1h-16zM613 135h8v1h-8zM633 135h3v1h-3zM262 136h15v1h-15zM282 136h10v1h-10zM297 136h5v1h-5zM307 136h6v1h-6zM315 136h3v1h-3zM327 136h25v1h-25zM357 136h5v1h-5zM377 136h20v1h-20zM409 136h8v1h-8zM440 136h7v1h-7zM455 136h12v1h-12zM477 136h5v1h-5zM487 136h5v1h-5zM504 136h4v1h-4zM524 136h5v1h-5zM553 136h9v1h-9zM576 136h2v1h-2zM587 136h17v1h-17zM615 136h5v1h-5zM262 137h15v1h-15zM282 137h10v1h-10zM297 137h5v1h-5zM307 137h5v1h-5zM316 137h3v1h-3zM327 137h25v1h-25zM357 137h5v1h-5zM377 137h7v1h-7zM390 137h7v1h-7zM410 137h7v1h-7zM439 137h8v1h-8zM454 137h10v1h-10zM467 137h3v1h-3zM477 137h5v1h-5zM487 137h5v1h-5zM505 137h3v1h-3zM525 137h6v1h-6zM553 137h9v1h-9zM576 137h2v1h-2zM587 137h18v1h-18zM262 138h15v1h-15zM282 138h10v1h-10zM297 138h5v1h-5zM307 138h4v1h-4zM317 138h2v1h-2zM327 138h25v1h-25zM357 138h5v1h-5zM377 138h6v1h-6zM392 138h5v1h-5zM411 138h6v1h-6zM438 138h9v1h-9zM453 138h10v1h-10zM467 138h4v1h-4zM477 138h5v1h-5zM487 138h5v1h-5zM505 138h3v1h-3zM526 138h5v1h-5zM553 138h9v1h-9zM576 138h2v1h-2zM587 138h11v1h-11zM601 138h4v1h-4zM262 139h15v1h-15zM282 139h10v1h-10zM297 139h5v1h-5zM307 139h4v1h-4zM317 139h2v1h-2zM327 139h25v1h-25zM357 139h5v1h-5zM377 139h5v1h-5zM392 139h5v1h-5zM412 139h5v1h-5zM437 139h10v1h-10zM452 139h10v1h-10zM467 139h5v1h-5zM477 139h5v1h-5zM487 139h5v1h-5zM505 139h3v1h-3zM527 139h5v1h-5zM553 139h9v1h-9zM576 139h2v1h-2zM587 139h10v1h-10zM602 139h4v1h-4zM263 140h13v1h-13zM283 140h9v1h-9zM297 140h6v1h-6zM306 140h5v1h-5zM317 140h2v1h-2zM328 140h25v1h-25zM356 140h6v1h-6zM377 140h5v1h-5zM393 140h4v1h-4zM412 140h5v1h-5zM436 140h12v1h-12zM451 140h11v1h-11zM467 140h5v1h-5zM477 140h5v1h-5zM487 140h5v1h-5zM506 140h2v1h-2zM528 140h4v1h-4zM553 140h9v1h-9zM576 140h2v1h-2zM587 140h10v1h-10zM602 140h4v1h-4zM264 141h11v1h-11zM284 141h8v1h-8zM297 141h14v1h-14zM317 141h3v1h-3zM329 141h33v1h-33zM377 141h4v1h-4zM394 141h4v1h-4zM412 141h5v1h-5zM435 141h27v1h-27zM467 141h5v1h-5zM477 141h5v1h-5zM487 141h4v1h-4zM505 141h3v1h-3zM529 141h4v1h-4zM553 141h9v1h-9zM576 141h2v1h-2zM587 141h10v1h-10zM603 141h3v1h-3zM285 142h7v1h-7zM297 142h14v1h-14zM318 142h3v1h-3zM330 142h32v1h-32zM377 142h4v1h-4zM395 142h3v1h-3zM412 142h5v1h-5zM434 142h28v1h-28zM467 142h5v1h-5zM477 142h5v1h-5zM487 142h4v1h-4zM505 142h2v1h-2zM530 142h3v1h-3zM553 142h9v1h-9zM576 142h2v1h-2zM587 142h10v1h-10zM604 142h3v1h-3zM286 143h6v1h-6zM297 143h14v1h-14zM318 143h3v1h-3zM331 143h31v1h-31zM377 143h4v1h-4zM395 143h3v1h-3zM412 143h5v1h-5zM433 143h29v1h-29zM467 143h5v1h-5zM477 143h5v1h-5zM487 143h4v1h-4zM505 143h2v1h-2zM530 143h3v1h-3zM552 143h10v1h-10zM576 143h2v1h-2zM587 143h10v1h-10zM605 143h2v1h-2zM287 144h5v1h-5zM297 144h14v1h-14zM318 144h4v1h-4zM332 144h30v1h-30zM377 144h4v1h-4zM396 144h3v1h-3zM412 144h5v1h-5zM433 144h30v1h-30zM466 144h6v1h-6zM477 144h6v1h-6zM487 144h4v1h-4zM505 144h2v1h-2zM531 144h2v1h-2zM552 144h10v1h-10zM576 144h3v1h-3zM587 144h10v1h-10zM605 144h2v1h-2zM287 145h6v1h-6zM296 145h15v1h-15zM318 145h4v1h-4zM332 145h30v1h-30zM376 145h5v1h-5zM396 145h4v1h-4zM413 145h3v1h-3zM433 145h40v1h-40zM477 145h6v1h-6zM486 145h5v1h-5zM504 145h3v1h-3zM531 145h3v1h-3zM552 145h10v1h-10zM576 145h3v1h-3zM588 145h10v1h-10zM605 145h2v1h-2zM287 146h25v1h-25zM317 146h5v1h-5zM332 146h30v1h-30zM375 146h6v1h-6zM397 146h4v1h-4zM434 146h40v1h-40zM477 146h14v1h-14zM503 146h3v1h-3zM532 146h3v1h-3zM552 146h10v1h-10zM576 146h4v1h-4zM589 146h10v1h-10zM605 146h3v1h-3zM287 147h26v1h-26zM316 147h6v1h-6zM332 147h17v1h-17zM355 147h7v1h-7zM369 147h12v1h-12zM398 147h4v1h-4zM435 147h42v1h-42zM479 147h12v1h-12zM501 147h4v1h-4zM532 147h3v1h-3zM552 147h10v1h-10zM576 147h5v1h-5zM590 147h10v1h-10zM606 147h3v1h-3zM287 148h35v1h-35zM332 148h16v1h-16zM356 148h6v1h-6zM367 148h14v1h-14zM399 148h4v1h-4zM436 148h12v1h-12zM450 148h4v1h-4zM456 148h21v1h-21zM481 148h11v1h-11zM499 148h5v1h-5zM533 148h3v1h-3zM552 148h10v1h-10zM577 148h4v1h-4zM591 148h10v1h-10zM606 148h4v1h-4zM288 149h34v1h-34zM333 149h14v1h-14zM357 149h6v1h-6zM366 149h14v1h-14zM400 149h3v1h-3zM437 149h10v1h-10zM450 149h4v1h-4zM457 149h6v1h-6zM466 149h11v1h-11zM482 149h10v1h-10zM497 149h5v1h-5zM533 149h5v1h-5zM552 149h10v1h-10zM577 149h5v1h-5zM592 149h10v1h-10zM607 149h3v1h-3zM288 150h34v1h-34zM333 150h14v1h-14zM358 150h22v1h-22zM401 150h3v1h-3zM438 150h9v1h-9zM450 150h3v1h-3zM459 150h4v1h-4zM467 150h9v1h-9zM482 150h11v1h-11zM496 150h5v1h-5zM534 150h5v1h-5zM551 150h11v1h-11zM577 150h6v1h-6zM593 150h9v1h-9zM607 150h4v1h-4zM289 151h33v1h-33zM334 151h13v1h-13zM359 151h20v1h-20zM401 151h4v1h-4zM439 151h8v1h-8zM451 151h2v1h-2zM460 151h3v1h-3zM467 151h8v1h-8zM484 151h16v1h-16zM536 151h7v1h-7zM550 151h12v1h-12zM577 151h7v1h-7zM594 151h8v1h-8zM607 151h5v1h-5zM291 152h31v1h-31zM336 152h11v1h-11zM361 152h7v1h-7zM401 152h5v1h-5zM440 152h7v1h-7zM450 152h3v1h-3zM461 152h3v1h-3zM467 152h7v1h-7zM485 152h14v1h-14zM538 152h24v1h-24zM577 152h8v1h-8zM595 152h7v1h-7zM607 152h6v1h-6zM291 153h31v1h-31zM336 153h11v1h-11zM402 153h5v1h-5zM418 153h3v1h-3zM441 153h6v1h-6zM450 153h3v1h-3zM462 153h2v1h-2zM467 153h6v1h-6zM486 153h12v1h-12zM540 153h22v1h-22zM577 153h9v1h-9zM597 153h5v1h-5zM607 153h7v1h-7zM292 154h30v1h-30zM337 154h10v1h-10zM402 154h6v1h-6zM417 154h5v1h-5zM442 154h6v1h-6zM450 154h3v1h-3zM462 154h2v1h-2zM467 154h5v1h-5zM487 154h10v1h-10zM542 154h20v1h-20zM577 154h10v1h-10zM598 154h5v1h-5zM606 154h9v1h-9zM292 155h29v1h-29zM337 155h10v1h-10zM403 155h7v1h-7zM416 155h6v1h-6zM442 155h11v1h-11zM462 155h2v1h-2zM466 155h5v1h-5zM487 155h9v1h-9zM544 155h19v1h-19zM576 155h11v1h-11zM599 155h16v1h-16zM292 156h28v1h-28zM337 156h10v1h-10zM404 156h20v1h-20zM442 156h10v1h-10zM462 156h2v1h-2zM466 156h5v1h-5zM487 156h8v1h-8zM548 156h16v1h-16zM575 156h12v1h-12zM601 156h15v1h-15zM292 157h17v1h-17zM337 157h10v1h-10zM406 157h19v1h-19zM442 157h9v1h-9zM462 157h2v1h-2zM466 157h4v1h-4zM487 157h6v1h-6zM550 157h37v1h-37zM603 157h13v1h-13zM292 158h15v1h-15zM337 158h10v1h-10zM410 158h17v1h-17zM442 158h7v1h-7zM462 158h7v1h-7zM487 158h5v1h-5zM552 158h35v1h-35zM606 158h10v1h-10zM292 159h14v1h-14zM337 159h10v1h-10zM412 159h15v1h-15zM442 159h5v1h-5zM462 159h6v1h-6zM486 159h6v1h-6zM552 159h35v1h-35zM607 159h9v1h-9zM293 160h11v1h-11zM337 160h10v1h-10zM413 160h15v1h-15zM442 160h5v1h-5zM462 160h6v1h-6zM486 160h5v1h-5zM553 160h35v1h-35zM608 160h8v1h-8zM294 161h7v1h-7zM337 161h10v1h-10zM414 161h15v1h-15zM442 161h4v1h-4zM462 161h5v1h-5zM484 161h6v1h-6zM554 161h34v1h-34zM608 161h9v1h-9zM337 162h10v1h-10zM416 162h15v1h-15zM442 162h4v1h-4zM462 162h4v1h-4zM479 162h10v1h-10zM556 162h33v1h-33zM608 162h9v1h-9zM337 163h10v1h-10zM417 163h6v1h-6zM426 163h5v1h-5zM442 163h4v1h-4zM460 163h2v1h-2zM478 163h10v1h-10zM557 163h33v1h-33zM609 163h9v1h-9zM337 164h10v1h-10zM417 164h5v1h-5zM426 164h6v1h-6zM442 164h4v1h-4zM458 164h4v1h-4zM477 164h10v1h-10zM557 164h33v1h-33zM609 164h10v1h-10zM337 165h11v1h-11zM418 165h3v1h-3zM427 165h6v1h-6zM441 165h5v1h-5zM457 165h5v1h-5zM476 165h10v1h-10zM558 165h32v1h-32zM609 165h9v1h-9zM337 166h11v1h-11zM427 166h7v1h-7zM440 166h6v1h-6zM457 166h5v1h-5zM475 166h10v1h-10zM559 166h30v1h-30zM609 166h8v1h-8zM337 167h13v1h-13zM427 167h19v1h-19zM457 167h5v1h-5zM474 167h9v1h-9zM561 167h8v1h-8zM580 167h8v1h-8zM609 167h7v1h-7zM337 168h14v1h-14zM427 168h20v1h-20zM457 168h5v1h-5zM472 168h10v1h-10zM561 168h7v1h-7zM581 168h7v1h-7zM609 168h7v1h-7zM337 169h14v1h-14zM428 169h19v1h-19zM456 169h6v1h-6zM472 169h9v1h-9zM562 169h5v1h-5zM582 169h6v1h-6zM610 169h5v1h-5zM337 170h15v1h-15zM430 170h18v1h-18zM455 170h7v1h-7zM471 170h9v1h-9zM562 170h5v1h-5zM582 170h6v1h-6zM337 171h15v1h-15zM438 171h11v1h-11zM450 171h12v1h-12zM470 171h6v1h-6zM562 171h5v1h-5zM582 171h6v1h-6zM337 172h15v1h-15zM440 172h22v1h-22zM468 172h6v1h-6zM562 172h5v1h-5zM582 172h7v1h-7zM324 173h2v1h-2zM337 173h15v1h-15zM441 173h21v1h-21zM467 173h6v1h-6zM508 173h3v1h-3zM562 173h5v1h-5zM582 173h8v1h-8zM324 174h3v1h-3zM337 174h16v1h-16zM442 174h10v1h-10zM457 174h6v1h-6zM467 174h5v1h-5zM507 174h5v1h-5zM562 174h5v1h-5zM582 174h8v1h-8zM324 175h4v1h-4zM338 175h15v1h-15zM442 175h8v1h-8zM458 175h5v1h-5zM466 175h5v1h-5zM507 175h6v1h-6zM562 175h5v1h-5zM583 175h7v1h-7zM323 176h6v1h-6zM339 176h16v1h-16zM442 176h6v1h-6zM459 176h11v1h-11zM506 176h8v1h-8zM562 176h5v1h-5zM584 176h6v1h-6zM323 177h7v1h-7zM340 177h20v1h-20zM442 177h5v1h-5zM460 177h9v1h-9zM503 177h16v1h-16zM562 177h5v1h-5zM323 178h9v1h-9zM341 178h7v1h-7zM351 178h10v1h-10zM442 178h4v1h-4zM461 178h7v1h-7zM500 178h21v1h-21zM562 178h5v1h-5zM323 179h10v1h-10zM342 179h5v1h-5zM351 179h11v1h-11zM442 179h3v1h-3zM462 179h5v1h-5zM498 179h24v1h-24zM562 179h5v1h-5zM592 179h4v1h-4zM629 179h2v1h-2zM323 180h11v1h-11zM342 180h5v1h-5zM352 180h10v1h-10zM443 180h2v1h-2zM462 180h5v1h-5zM497 180h25v1h-25zM561 180h6v1h-6zM592 180h5v1h-5zM629 180h3v1h-3zM323 181h13v1h-13zM342 181h5v1h-5zM352 181h10v1h-10zM462 181h5v1h-5zM497 181h27v1h-27zM560 181h7v1h-7zM592 181h6v1h-6zM628 181h4v1h-4zM323 182h15v1h-15zM342 182h5v1h-5zM352 182h10v1h-10zM462 182h5v1h-5zM497 182h28v1h-28zM559 182h8v1h-8zM592 182h7v1h-7zM628 182h4v1h-4zM322 183h6v1h-6zM334 183h4v1h-4zM342 183h5v1h-5zM352 183h10v1h-10zM462 183h5v1h-5zM497 183h30v1h-30zM558 183h9v1h-9zM592 183h8v1h-8zM629 183h3v1h-3zM322 184h5v1h-5zM336 184h3v1h-3zM341 184h7v1h-7zM351 184h12v1h-12zM389 184h2v1h-2zM463 184h3v1h-3zM497 184h31v1h-31zM557 184h10v1h-10zM592 184h9v1h-9zM629 184h2v1h-2zM320 185h7v1h-7zM336 185h29v1h-29zM388 185h4v1h-4zM496 185h34v1h-34zM556 185h11v1h-11zM592 185h9v1h-9zM629 185h1v1h-1zM311 186h16v1h-16zM337 186h35v1h-35zM388 186h5v1h-5zM496 186h42v1h-42zM555 186h12v1h-12zM592 186h10v1h-10zM257 187h5v1h-5zM308 187h19v1h-19zM339 187h37v1h-37zM388 187h7v1h-7zM494 187h10v1h-10zM515 187h52v1h-52zM592 187h11v1h-11zM257 188h8v1h-8zM298 188h17v1h-17zM319 188h8v1h-8zM340 188h25v1h-25zM371 188h6v1h-6zM387 188h9v1h-9zM493 188h10v1h-10zM516 188h7v1h-7zM534 188h33v1h-33zM592 188h12v1h-12zM261 189h6v1h-6zM297 189h16v1h-16zM321 189h6v1h-6zM341 189h7v1h-7zM351 189h12v1h-12zM375 189h3v1h-3zM387 189h10v1h-10zM433 189h2v1h-2zM492 189h10v1h-10zM516 189h6v1h-6zM536 189h31v1h-31zM592 189h14v1h-14zM262 190h6v1h-6zM296 190h16v1h-16zM322 190h5v1h-5zM342 190h5v1h-5zM352 190h10v1h-10zM376 190h4v1h-4zM387 190h10v1h-10zM432 190h3v1h-3zM490 190h12v1h-12zM516 190h6v1h-6zM537 190h31v1h-31zM592 190h15v1h-15zM263 191h6v1h-6zM295 191h15v1h-15zM322 191h5v1h-5zM342 191h5v1h-5zM352 191h10v1h-10zM376 191h5v1h-5zM387 191h12v1h-12zM432 191h3v1h-3zM488 191h14v1h-14zM515 191h7v1h-7zM539 191h30v1h-30zM592 191h17v1h-17zM265 192h5v1h-5zM294 192h15v1h-15zM322 192h5v1h-5zM342 192h5v1h-5zM352 192h10v1h-10zM378 192h5v1h-5zM387 192h19v1h-19zM432 192h3v1h-3zM487 192h15v1h-15zM514 192h8v1h-8zM560 192h10v1h-10zM592 192h24v1h-24zM266 193h4v1h-4zM293 193h15v1h-15zM322 193h5v1h-5zM342 193h5v1h-5zM352 193h10v1h-10zM379 193h4v1h-4zM387 193h23v1h-23zM432 193h3v1h-3zM486 193h16v1h-16zM513 193h9v1h-9zM561 193h10v1h-10zM592 193h25v1h-25zM266 194h5v1h-5zM292 194h15v1h-15zM322 194h5v1h-5zM342 194h5v1h-5zM352 194h10v1h-10zM380 194h4v1h-4zM386 194h26v1h-26zM433 194h2v1h-2zM485 194h4v1h-4zM491 194h11v1h-11zM512 194h10v1h-10zM562 194h10v1h-10zM592 194h21v1h-21zM615 194h3v1h-3zM267 195h4v1h-4zM292 195h14v1h-14zM323 195h3v1h-3zM343 195h5v1h-5zM351 195h12v1h-12zM381 195h32v1h-32zM484 195h4v1h-4zM492 195h10v1h-10zM511 195h10v1h-10zM562 195h11v1h-11zM593 195h19v1h-19zM616 195h3v1h-3zM267 196h4v1h-4zM292 196h13v1h-13zM343 196h21v1h-21zM382 196h32v1h-32zM482 196h6v1h-6zM492 196h10v1h-10zM510 196h10v1h-10zM562 196h12v1h-12zM594 196h17v1h-17zM617 196h4v1h-4zM641 196h6v1h-6zM267 197h4v1h-4zM292 197h7v1h-7zM343 197h22v1h-22zM383 197h32v1h-32zM478 197h9v1h-9zM492 197h10v1h-10zM509 197h10v1h-10zM562 197h23v1h-23zM605 197h6v1h-6zM618 197h5v1h-5zM640 197h7v1h-7zM267 198h5v1h-5zM292 198h6v1h-6zM343 198h23v1h-23zM391 198h17v1h-17zM410 198h6v1h-6zM453 198h2v1h-2zM477 198h7v1h-7zM492 198h10v1h-10zM508 198h10v1h-10zM562 198h25v1h-25zM606 198h5v1h-5zM620 198h4v1h-4zM639 198h5v1h-5zM267 199h6v1h-6zM291 199h6v1h-6zM343 199h24v1h-24zM392 199h16v1h-16zM411 199h6v1h-6zM452 199h3v1h-3zM476 199h3v1h-3zM492 199h10v1h-10zM507 199h10v1h-10zM562 199h26v1h-26zM606 199h5v1h-5zM621 199h4v1h-4zM638 199h5v1h-5zM268 200h6v1h-6zM289 200h7v1h-7zM343 200h24v1h-24zM392 200h16v1h-16zM411 200h6v1h-6zM450 200h6v1h-6zM475 200h3v1h-3zM492 200h11v1h-11zM506 200h10v1h-10zM563 200h26v1h-26zM606 200h4v1h-4zM622 200h4v1h-4zM638 200h4v1h-4zM269 201h9v1h-9zM286 201h9v1h-9zM343 201h24v1h-24zM392 201h25v1h-25zM447 201h9v1h-9zM472 201h6v1h-6zM492 201h23v1h-23zM564 201h27v1h-27zM606 201h4v1h-4zM622 201h4v1h-4zM638 201h3v1h-3zM271 202h22v1h-22zM343 202h24v1h-24zM392 202h25v1h-25zM444 202h12v1h-12zM469 202h7v1h-7zM484 202h8v1h-8zM495 202h19v1h-19zM565 202h14v1h-14zM586 202h6v1h-6zM606 202h3v1h-3zM622 202h4v1h-4zM638 202h3v1h-3zM275 203h14v1h-14zM343 203h5v1h-5zM351 203h16v1h-16zM392 203h25v1h-25zM443 203h13v1h-13zM468 203h5v1h-5zM483 203h9v1h-9zM496 203h17v1h-17zM566 203h12v1h-12zM589 203h4v1h-4zM606 203h3v1h-3zM622 203h5v1h-5zM637 203h4v1h-4zM277 204h10v1h-10zM343 204h4v1h-4zM352 204h16v1h-16zM392 204h26v1h-26zM442 204h3v1h-3zM451 204h5v1h-5zM467 204h2v1h-2zM482 204h10v1h-10zM497 204h15v1h-15zM567 204h10v1h-10zM590 204h4v1h-4zM605 204h4v1h-4zM622 204h6v1h-6zM636 204h4v1h-4zM279 205h6v1h-6zM343 205h4v1h-4zM352 205h17v1h-17zM392 205h28v1h-28zM441 205h3v1h-3zM452 205h4v1h-4zM466 205h2v1h-2zM482 205h9v1h-9zM498 205h13v1h-13zM567 205h10v1h-10zM591 205h5v1h-5zM604 205h5v1h-5zM623 205h16v1h-16zM331 206h6v1h-6zM341 206h6v1h-6zM352 206h20v1h-20zM377 206h9v1h-9zM392 206h34v1h-34zM440 206h3v1h-3zM452 206h6v1h-6zM465 206h2v1h-2zM482 206h8v1h-8zM499 206h11v1h-11zM567 206h10v1h-10zM592 206h17v1h-17zM624 206h13v1h-13zM324 207h23v1h-23zM352 207h35v1h-35zM392 207h35v1h-35zM439 207h3v1h-3zM452 207h14v1h-14zM482 207h7v1h-7zM567 207h10v1h-10zM593 207h18v1h-18zM323 208h24v1h-24zM352 208h11v1h-11zM372 208h5v1h-5zM384 208h4v1h-4zM392 208h28v1h-28zM423 208h5v1h-5zM438 208h3v1h-3zM452 208h12v1h-12zM482 208h6v1h-6zM523 208h3v1h-3zM567 208h10v1h-10zM605 208h10v1h-10zM322 209h11v1h-11zM342 209h5v1h-5zM352 209h10v1h-10zM385 209h4v1h-4zM392 209h26v1h-26zM425 209h4v1h-4zM437 209h2v1h-2zM453 209h4v1h-4zM482 209h5v1h-5zM523 209h3v1h-3zM567 209h10v1h-10zM607 209h9v1h-9zM321 210h11v1h-11zM343 210h5v1h-5zM353 210h9v1h-9zM386 210h3v1h-3zM391 210h26v1h-26zM426 210h4v1h-4zM436 210h2v1h-2zM453 210h3v1h-3zM482 210h5v1h-5zM523 210h3v1h-3zM566 210h12v1h-12zM607 210h10v1h-10zM320 211h12v1h-12zM344 211h4v1h-4zM354 211h8v1h-8zM386 211h31v1h-31zM427 211h10v1h-10zM482 211h5v1h-5zM565 211h14v1h-14zM607 211h10v1h-10zM319 212h13v1h-13zM345 212h3v1h-3zM355 212h7v1h-7zM386 212h31v1h-31zM428 212h6v1h-6zM482 212h5v1h-5zM549 212h31v1h-31zM607 212h10v1h-10zM318 213h14v1h-14zM345 213h3v1h-3zM356 213h6v1h-6zM387 213h30v1h-30zM482 213h5v1h-5zM548 213h33v1h-33zM607 213h10v1h-10zM317 214h15v1h-15zM346 214h3v1h-3zM357 214h5v1h-5zM387 214h30v1h-30zM482 214h4v1h-4zM547 214h35v1h-35zM607 214h9v1h-9zM316 215h16v1h-16zM346 215h3v1h-3zM357 215h4v1h-4zM388 215h29v1h-29zM483 215h3v1h-3zM546 215h36v1h-36zM608 215h6v1h-6zM315 216h16v1h-16zM346 216h4v1h-4zM357 216h4v1h-4zM389 216h28v1h-28zM545 216h37v1h-37zM304 217h27v1h-27zM346 217h5v1h-5zM357 217h4v1h-4zM390 217h27v1h-27zM534 217h48v1h-48zM303 218h28v1h-28zM347 218h4v1h-4zM357 218h4v1h-4zM391 218h26v1h-26zM423 218h2v1h-2zM533 218h49v1h-49zM302 219h29v1h-29zM347 219h5v1h-5zM357 219h3v1h-3zM392 219h26v1h-26zM422 219h3v1h-3zM532 219h51v1h-51zM301 220h30v1h-30zM347 220h5v1h-5zM358 220h2v1h-2zM392 220h34v1h-34zM532 220h53v1h-53zM301 221h30v1h-30zM347 221h5v1h-5zM392 221h34v1h-34zM531 221h60v1h-60zM300 222h31v1h-31zM347 222h5v1h-5zM392 222h34v1h-34zM531 222h4v1h-4zM565 222h27v1h-27zM299 223h33v1h-33zM347 223h5v1h-5zM392 223h16v1h-16zM411 223h16v1h-16zM531 223h3v1h-3zM566 223h12v1h-12zM588 223h5v1h-5zM298 224h35v1h-35zM346 224h6v1h-6zM392 224h15v1h-15zM412 224h15v1h-15zM530 224h4v1h-4zM566 224h11v1h-11zM590 224h3v1h-3zM298 225h36v1h-36zM346 225h5v1h-5zM391 225h15v1h-15zM412 225h15v1h-15zM530 225h3v1h-3zM566 225h11v1h-11zM590 225h4v1h-4zM297 226h54v1h-54zM390 226h15v1h-15zM412 226h15v1h-15zM529 226h4v1h-4zM565 226h12v1h-12zM589 226h14v1h-14zM296 227h28v1h-28zM331 227h18v1h-18zM384 227h20v1h-20zM412 227h12v1h-12zM427 227h2v1h-2zM524 227h9v1h-9zM564 227h13v1h-13zM588 227h16v1h-16zM284 228h39v1h-39zM339 228h9v1h-9zM358 228h3v1h-3zM383 228h20v1h-20zM412 228h7v1h-7zM427 228h4v1h-4zM438 228h3v1h-3zM523 228h9v1h-9zM563 228h14v1h-14zM587 228h18v1h-18zM282 229h40v1h-40zM341 229h6v1h-6zM357 229h5v1h-5zM382 229h21v1h-21zM412 229h5v1h-5zM427 229h5v1h-5zM437 229h5v1h-5zM522 229h10v1h-10zM562 229h16v1h-16zM587 229h11v1h-11zM601 229h5v1h-5zM281 230h41v1h-41zM342 230h4v1h-4zM356 230h9v1h-9zM381 230h22v1h-22zM412 230h4v1h-4zM426 230h16v1h-16zM521 230h11v1h-11zM562 230h18v1h-18zM584 230h13v1h-13zM602 230h4v1h-4zM280 231h42v1h-42zM355 231h18v1h-18zM380 231h24v1h-24zM412 231h2v1h-2zM425 231h17v1h-17zM520 231h12v1h-12zM562 231h35v1h-35zM602 231h4v1h-4zM278 232h7v1h-7zM290 232h32v1h-32zM354 232h58v1h-58zM424 232h18v1h-18zM454 232h16v1h-16zM493 232h12v1h-12zM519 232h13v1h-13zM562 232h35v1h-35zM602 232h4v1h-4zM629 232h5v1h-5zM274 233h9v1h-9zM291 233h31v1h-31zM353 233h12v1h-12zM368 233h44v1h-44zM424 233h18v1h-18zM452 233h20v1h-20zM484 233h22v1h-22zM517 233h15v1h-15zM562 233h11v1h-11zM585 233h12v1h-12zM602 233h5v1h-5zM628 233h8v1h-8zM272 234h11v1h-11zM292 234h30v1h-30zM352 234h10v1h-10zM371 234h41v1h-41zM423 234h10v1h-10zM436 234h7v1h-7zM452 234h20v1h-20zM482 234h25v1h-25zM517 234h15v1h-15zM562 234h10v1h-10zM587 234h10v1h-10zM602 234h5v1h-5zM627 234h10v1h-10zM272 235h10v1h-10zM292 235h29v1h-29zM351 235h10v1h-10zM371 235h41v1h-41zM423 235h9v1h-9zM436 235h8v1h-8zM451 235h22v1h-22zM480 235h28v1h-28zM516 235h17v1h-17zM561 235h11v1h-11zM588 235h10v1h-10zM601 235h8v1h-8zM626 235h11v1h-11zM271 236h11v1h-11zM292 236h28v1h-28zM350 236h10v1h-10zM372 236h40v1h-40zM423 236h10v1h-10zM435 236h21v1h-21zM463 236h46v1h-46zM514 236h20v1h-20zM560 236h12v1h-12zM589 236h50v1h-50zM269 237h13v1h-13zM292 237h17v1h-17zM349 237h10v1h-10zM369 237h3v1h-3zM375 237h37v1h-37zM423 237h6v1h-6zM432 237h22v1h-22zM469 237h14v1h-14zM495 237h25v1h-25zM525 237h47v1h-47zM590 237h51v1h-51zM268 238h14v1h-14zM292 238h16v1h-16zM347 238h11v1h-11zM368 238h4v1h-4zM376 238h12v1h-12zM391 238h21v1h-21zM422 238h6v1h-6zM432 238h21v1h-21zM471 238h8v1h-8zM496 238h22v1h-22zM526 238h46v1h-46zM591 238h19v1h-19zM619 238h28v1h-28zM267 239h15v1h-15zM291 239h16v1h-16zM347 239h10v1h-10zM367 239h5v1h-5zM377 239h10v1h-10zM392 239h20v1h-20zM422 239h6v1h-6zM432 239h10v1h-10zM446 239h6v1h-6zM472 239h6v1h-6zM497 239h20v1h-20zM527 239h45v1h-45zM592 239h16v1h-16zM621 239h26v1h-26zM265 240h18v1h-18zM289 240h17v1h-17zM346 240h11v1h-11zM367 240h5v1h-5zM378 240h8v1h-8zM393 240h19v1h-19zM421 240h7v1h-7zM432 240h9v1h-9zM447 240h5v1h-5zM473 240h4v1h-4zM498 240h19v1h-19zM527 240h45v1h-45zM592 240h15v1h-15zM622 240h25v1h-25zM257 241h48v1h-48zM344 241h13v1h-13zM367 241h5v1h-5zM379 241h6v1h-6zM394 241h18v1h-18zM420 241h9v1h-9zM432 241h8v1h-8zM447 241h5v1h-5zM499 241h16v1h-16zM527 241h44v1h-44zM592 241h15v1h-15zM624 241h12v1h-12zM257 242h36v1h-36zM324 242h33v1h-33zM367 242h5v1h-5zM412 242h20v1h-20zM447 242h5v1h-5zM527 242h44v1h-44zM585 242h7v1h-7zM600 242h7v1h-7zM265 243h8v1h-8zM276 243h14v1h-14zM323 243h25v1h-25zM351 243h6v1h-6zM367 243h5v1h-5zM412 243h20v1h-20zM447 243h5v1h-5zM527 243h44v1h-44zM584 243h8v1h-8zM601 243h6v1h-6zM267 244h5v1h-5zM277 244h11v1h-11zM322 244h26v1h-26zM352 244h5v1h-5zM367 244h5v1h-5zM411 244h21v1h-21zM447 244h5v1h-5zM527 244h44v1h-44zM583 244h9v1h-9zM601 244h6v1h-6zM268 245h3v1h-3zM278 245h9v1h-9zM321 245h26v1h-26zM353 245h4v1h-4zM368 245h3v1h-3zM411 245h21v1h-21zM447 245h6v1h-6zM527 245h44v1h-44zM583 245h9v1h-9zM601 245h7v1h-7zM279 246h8v1h-8zM320 246h27v1h-27zM354 246h3v1h-3zM410 246h22v1h-22zM447 246h6v1h-6zM527 246h44v1h-44zM581 246h11v1h-11zM600 246h9v1h-9zM280 247h7v1h-7zM314 247h33v1h-33zM357 247h3v1h-3zM408 247h7v1h-7zM420 247h12v1h-12zM447 247h8v1h-8zM527 247h44v1h-44zM578 247h14v1h-14zM599 247h21v1h-21zM281 248h6v1h-6zM313 248h34v1h-34zM357 248h4v1h-4zM408 248h5v1h-5zM421 248h11v1h-11zM447 248h9v1h-9zM527 248h36v1h-36zM566 248h6v1h-6zM577 248h15v1h-15zM598 248h23v1h-23zM281 249h6v1h-6zM312 249h35v1h-35zM357 249h5v1h-5zM407 249h6v1h-6zM422 249h10v1h-10zM447 249h9v1h-9zM527 249h36v1h-36zM566 249h7v1h-7zM576 249h16v1h-16zM597 249h25v1h-25zM281 250h6v1h-6zM311 250h36v1h-36zM358 250h4v1h-4zM406 250h6v1h-6zM422 250h10v1h-10zM447 250h10v1h-10zM526 250h37v1h-37zM565 250h13v1h-13zM582 250h11v1h-11zM596 250h26v1h-26zM280 251h7v1h-7zM310 251h37v1h-37zM359 251h3v1h-3zM405 251h7v1h-7zM422 251h10v1h-10zM447 251h10v1h-10zM525 251h53v1h-53zM582 251h40v1h-40zM279 252h8v1h-8zM304 252h25v1h-25zM347 252h3v1h-3zM362 252h3v1h-3zM404 252h8v1h-8zM422 252h10v1h-10zM444 252h3v1h-3zM450 252h7v1h-7zM469 252h5v1h-5zM524 252h52v1h-52zM582 252h40v1h-40zM278 253h9v1h-9zM303 253h25v1h-25zM347 253h4v1h-4zM362 253h4v1h-4zM403 253h9v1h-9zM422 253h10v1h-10zM443 253h4v1h-4zM451 253h6v1h-6zM468 253h8v1h-8zM523 253h45v1h-45zM582 253h26v1h-26zM611 253h11v1h-11zM277 254h11v1h-11zM302 254h25v1h-25zM347 254h5v1h-5zM362 254h4v1h-4zM402 254h10v1h-10zM422 254h10v1h-10zM442 254h5v1h-5zM452 254h5v1h-5zM467 254h9v1h-9zM522 254h46v1h-46zM582 254h26v1h-26zM611 254h11v1h-11zM277 255h13v1h-13zM301 255h26v1h-26zM347 255h6v1h-6zM363 255h3v1h-3zM401 255h11v1h-11zM421 255h12v1h-12zM441 255h6v1h-6zM453 255h4v1h-4zM466 255h10v1h-10zM521 255h46v1h-46zM582 255h26v1h-26zM611 255h11v1h-11zM277 256h50v1h-50zM347 256h7v1h-7zM400 256h12v1h-12zM420 256h14v1h-14zM440 256h7v1h-7zM454 256h3v1h-3zM465 256h10v1h-10zM520 256h47v1h-47zM582 256h40v1h-40zM277 257h37v1h-37zM327 257h3v1h-3zM347 257h8v1h-8zM374 257h16v1h-16zM399 257h13v1h-13zM419 257h28v1h-28zM457 257h17v1h-17zM519 257h48v1h-48zM582 257h40v1h-40zM277 258h13v1h-13zM294 258h19v1h-19zM327 258h4v1h-4zM347 258h9v1h-9zM373 258h18v1h-18zM398 258h14v1h-14zM417 258h30v1h-30zM457 258h16v1h-16zM488 258h3v1h-3zM518 258h40v1h-40zM561 258h6v1h-6zM582 258h40v1h-40zM277 259h10v1h-10zM296 259h16v1h-16zM327 259h4v1h-4zM347 259h9v1h-9zM372 259h20v1h-20zM397 259h16v1h-16zM416 259h32v1h-32zM457 259h16v1h-16zM487 259h5v1h-5zM517 259h41v1h-41zM562 259h5v1h-5zM582 259h40v1h-40zM278 260h8v1h-8zM297 260h14v1h-14zM328 260h3v1h-3zM348 260h8v1h-8zM372 260h21v1h-21zM396 260h52v1h-52zM456 260h17v1h-17zM486 260h7v1h-7zM516 260h42v1h-42zM562 260h4v1h-4zM581 260h40v1h-40zM279 261h6v1h-6zM299 261h11v1h-11zM349 261h6v1h-6zM372 261h78v1h-78zM455 261h19v1h-19zM485 261h9v1h-9zM515 261h44v1h-44zM562 261h3v1h-3zM580 261h40v1h-40zM257 262h8v1h-8zM372 262h46v1h-46zM425 262h9v1h-9zM444 262h118v1h-118zM579 262h40v1h-40zM644 262h3v1h-3zM257 263h9v1h-9zM372 263h11v1h-11zM386 263h28v1h-28zM426 263h7v1h-7zM446 263h116v1h-116zM578 263h15v1h-15zM596 263h22v1h-22zM643 263h4v1h-4zM257 264h10v1h-10zM372 264h10v1h-10zM387 264h25v1h-25zM427 264h5v1h-5zM447 264h115v1h-115zM577 264h15v1h-15zM597 264h20v1h-20zM642 264h5v1h-5zM257 265h10v1h-10zM372 265h10v1h-10zM387 265h24v1h-24zM428 265h3v1h-3zM447 265h114v1h-114zM577 265h14v1h-14zM598 265h18v1h-18zM642 265h5v1h-5zM257 266h10v1h-10zM372 266h10v1h-10zM387 266h23v1h-23zM449 266h111v1h-111zM577 266h13v1h-13zM599 266h16v1h-16zM642 266h5v1h-5zM257 267h10v1h-10zM372 267h10v1h-10zM387 267h21v1h-21zM455 267h14v1h-14zM577 267h7v1h-7zM642 267h5v1h-5zM257 268h10v1h-10zM372 268h10v1h-10zM387 268h21v1h-21zM456 268h12v1h-12zM577 268h5v1h-5zM642 268h5v1h-5zM257 269h10v1h-10zM372 269h10v1h-10zM387 269h20v1h-20zM457 269h10v1h-10zM577 269h5v1h-5zM642 269h5v1h-5zM257 270h9v1h-9zM373 270h8v1h-8zM388 270h18v1h-18zM458 270h8v1h-8zM578 270h3v1h-3zM643 270h4v1h-4zM257 271h8v1h-8zM374 271h6v1h-6zM389 271h16v1h-16zM459 271h6v1h-6zM644 271h3v1h-3zM339 382h5v1h-5zM444 382h36v1h-36zM520 382h5v1h-5zM338 383h8v1h-8zM443 383h38v1h-38zM518 383h8v1h-8zM337 384h10v1h-10zM442 384h40v1h-40zM518 384h9v1h-9zM337 385h10v1h-10zM442 385h40v1h-40zM517 385h10v1h-10zM337 386h10v1h-10zM442 386h40v1h-40zM517 386h10v1h-10zM336 387h12v1h-12zM442 387h40v1h-40zM517 387h10v1h-10zM335 388h14v1h-14zM442 388h40v1h-40zM517 388h10v1h-10zM257 389h8v1h-8zM274 389h6v1h-6zM294 389h6v1h-6zM334 389h16v1h-16zM442 389h40v1h-40zM517 389h10v1h-10zM549 389h6v1h-6zM579 389h68v1h-68zM257 390h9v1h-9zM273 390h8v1h-8zM293 390h8v1h-8zM308 390h3v1h-3zM333 390h18v1h-18zM373 390h3v1h-3zM398 390h3v1h-3zM442 390h40v1h-40zM517 390h10v1h-10zM548 390h8v1h-8zM578 390h69v1h-69z"/>
<path fill="#ffcd00" d="M482 132h5v1h-5zM507 132h15v1h-15zM562 132h14v1h-14zM482 133h5v1h-5zM507 133h15v1h-15zM562 133h14v1h-14zM482 134h5v1h-5zM507 134h15v1h-15zM562 134h14v1h-14zM482 135h5v1h-5zM507 135h16v1h-16zM562 135h14v1h-14zM313 136h2v1h-2zM482 136h5v1h-5zM508 136h5v1h-5zM518 136h6v1h-6zM562 136h14v1h-14zM312 137h4v1h-4zM384 137h6v1h-6zM482 137h5v1h-5zM508 137h4v1h-4zM520 137h5v1h-5zM562 137h14v1h-14zM311 138h6v1h-6zM383 138h9v1h-9zM482 138h5v1h-5zM508 138h3v1h-3zM521 138h5v1h-5zM562 138h14v1h-14zM598 138h3v1h-3zM311 139h6v1h-6zM382 139h10v1h-10zM482 139h5v1h-5zM508 139h3v1h-3zM522 139h5v1h-5zM562 139h14v1h-14zM597 139h5v1h-5zM311 140h6v1h-6zM382 140h11v1h-11zM482 140h5v1h-5zM508 140h2v1h-2zM523 140h5v1h-5zM562 140h14v1h-14zM597 140h5v1h-5zM311 141h3v1h-3zM315 141h2v1h-2zM381 141h13v1h-13zM482 141h5v1h-5zM508 141h2v1h-2zM524 141h5v1h-5zM562 141h14v1h-14zM597 141h6v1h-6zM311 142h3v1h-3zM315 142h3v1h-3zM381 142h4v1h-4zM389 142h6v1h-6zM482 142h5v1h-5zM507 142h3v1h-3zM525 142h5v1h-5zM562 142h14v1h-14zM597 142h7v1h-7zM311 143h3v1h-3zM315 143h3v1h-3zM381 143h3v1h-3zM391 143h4v1h-4zM482 143h5v1h-5zM507 143h2v1h-2zM526 143h4v1h-4zM562 143h6v1h-6zM571 143h5v1h-5zM597 143h8v1h-8zM311 144h7v1h-7zM381 144h3v1h-3zM392 144h4v1h-4zM483 144h4v1h-4zM507 144h2v1h-2zM527 144h4v1h-4zM562 144h5v1h-5zM572 144h4v1h-4zM597 144h8v1h-8zM311 145h7v1h-7zM381 145h2v1h-2zM392 145h4v1h-4zM483 145h3v1h-3zM507 145h2v1h-2zM528 145h3v1h-3zM562 145h5v1h-5zM572 145h4v1h-4zM598 145h7v1h-7zM312 146h5v1h-5zM381 146h2v1h-2zM393 146h4v1h-4zM506 146h2v1h-2zM529 146h3v1h-3zM562 146h5v1h-5zM572 146h4v1h-4zM599 146h6v1h-6zM313 147h3v1h-3zM349 147h6v1h-6zM381 147h2v1h-2zM394 147h4v1h-4zM505 147h3v1h-3zM530 147h2v1h-2zM562 147h5v1h-5zM572 147h4v1h-4zM600 147h6v1h-6zM348 148h8v1h-8zM381 148h2v1h-2zM396 148h3v1h-3zM448 148h2v1h-2zM504 148h4v1h-4zM530 148h3v1h-3zM562 148h5v1h-5zM572 148h5v1h-5zM601 148h5v1h-5zM347 149h10v1h-10zM380 149h3v1h-3zM396 149h4v1h-4zM447 149h3v1h-3zM463 149h3v1h-3zM502 149h5v1h-5zM531 149h2v1h-2zM562 149h5v1h-5zM572 149h5v1h-5zM602 149h5v1h-5zM347 150h11v1h-11zM380 150h3v1h-3zM397 150h4v1h-4zM447 150h3v1h-3zM463 150h4v1h-4zM501 150h6v1h-6zM531 150h3v1h-3zM562 150h6v1h-6zM571 150h6v1h-6zM602 150h5v1h-5zM347 151h12v1h-12zM379 151h4v1h-4zM397 151h4v1h-4zM447 151h4v1h-4zM463 151h4v1h-4zM500 151h6v1h-6zM532 151h4v1h-4zM562 151h15v1h-15zM602 151h5v1h-5zM347 152h14v1h-14zM368 152h15v1h-15zM397 152h4v1h-4zM447 152h3v1h-3zM464 152h3v1h-3zM499 152h5v1h-5zM533 152h5v1h-5zM562 152h15v1h-15zM602 152h5v1h-5zM347 153h35v1h-35zM397 153h5v1h-5zM447 153h3v1h-3zM464 153h3v1h-3zM498 153h5v1h-5zM535 153h5v1h-5zM562 153h15v1h-15zM602 153h5v1h-5zM347 154h35v1h-35zM397 154h5v1h-5zM448 154h2v1h-2zM464 154h3v1h-3zM497 154h5v1h-5zM537 154h5v1h-5zM562 154h15v1h-15zM603 154h3v1h-3zM347 155h35v1h-35zM398 155h5v1h-5zM464 155h2v1h-2zM496 155h6v1h-6zM539 155h5v1h-5zM563 155h13v1h-13zM347 156h35v1h-35zM398 156h6v1h-6zM464 156h2v1h-2zM495 156h6v1h-6zM541 156h7v1h-7zM564 156h11v1h-11zM347 157h7v1h-7zM360 157h22v1h-22zM400 157h6v1h-6zM464 157h2v1h-2zM493 157h6v1h-6zM509 157h5v1h-5zM543 157h7v1h-7zM347 158h6v1h-6zM361 158h21v1h-21zM401 158h9v1h-9zM492 158h6v1h-6zM508 158h8v1h-8zM545 158h7v1h-7zM347 159h5v1h-5zM362 159h20v1h-20zM402 159h10v1h-10zM492 159h5v1h-5zM507 159h9v1h-9zM547 159h5v1h-5zM347 160h5v1h-5zM363 160h18v1h-18zM404 160h9v1h-9zM491 160h4v1h-4zM507 160h10v1h-10zM548 160h5v1h-5zM347 161h5v1h-5zM364 161h16v1h-16zM408 161h6v1h-6zM490 161h3v1h-3zM507 161h10v1h-10zM549 161h5v1h-5zM347 162h5v1h-5zM410 162h6v1h-6zM489 162h3v1h-3zM507 162h10v1h-10zM550 162h6v1h-6zM347 163h5v1h-5zM411 163h6v1h-6zM423 163h3v1h-3zM488 163h4v1h-4zM507 163h10v1h-10zM551 163h6v1h-6zM347 164h6v1h-6zM412 164h5v1h-5zM422 164h4v1h-4zM487 164h4v1h-4zM507 164h10v1h-10zM552 164h5v1h-5zM348 165h5v1h-5zM413 165h5v1h-5zM421 165h6v1h-6zM486 165h4v1h-4zM507 165h11v1h-11zM552 165h6v1h-6zM348 166h7v1h-7zM414 166h13v1h-13zM485 166h5v1h-5zM507 166h11v1h-11zM553 166h6v1h-6zM350 167h10v1h-10zM415 167h12v1h-12zM483 167h6v1h-6zM507 167h13v1h-13zM555 167h6v1h-6zM351 168h10v1h-10zM388 168h3v1h-3zM416 168h11v1h-11zM482 168h6v1h-6zM507 168h14v1h-14zM556 168h5v1h-5zM351 169h11v1h-11zM387 169h5v1h-5zM417 169h11v1h-11zM481 169h6v1h-6zM507 169h14v1h-14zM556 169h6v1h-6zM352 170h11v1h-11zM387 170h5v1h-5zM417 170h13v1h-13zM480 170h6v1h-6zM506 170h16v1h-16zM557 170h5v1h-5zM352 171h12v1h-12zM387 171h5v1h-5zM417 171h21v1h-21zM476 171h9v1h-9zM505 171h17v1h-17zM557 171h5v1h-5zM352 172h13v1h-13zM387 172h5v1h-5zM417 172h23v1h-23zM474 172h9v1h-9zM504 172h18v1h-18zM557 172h5v1h-5zM352 173h14v1h-14zM387 173h5v1h-5zM417 173h13v1h-13zM435 173h6v1h-6zM473 173h6v1h-6zM503 173h5v1h-5zM511 173h11v1h-11zM557 173h5v1h-5zM353 174h14v1h-14zM387 174h5v1h-5zM417 174h11v1h-11zM436 174h6v1h-6zM452 174h5v1h-5zM472 174h5v1h-5zM502 174h5v1h-5zM512 174h11v1h-11zM557 174h5v1h-5zM353 175h15v1h-15zM388 175h4v1h-4zM418 175h9v1h-9zM437 175h5v1h-5zM450 175h8v1h-8zM471 175h5v1h-5zM500 175h7v1h-7zM513 175h10v1h-10zM556 175h6v1h-6zM355 176h14v1h-14zM389 176h3v1h-3zM419 176h8v1h-8zM438 176h4v1h-4zM448 176h11v1h-11zM470 176h5v1h-5zM498 176h8v1h-8zM514 176h11v1h-11zM555 176h7v1h-7zM360 177h10v1h-10zM392 177h2v1h-2zM420 177h7v1h-7zM438 177h4v1h-4zM447 177h13v1h-13zM469 177h5v1h-5zM496 177h7v1h-7zM519 177h10v1h-10zM554 177h8v1h-8zM361 178h10v1h-10zM392 178h4v1h-4zM421 178h6v1h-6zM438 178h4v1h-4zM446 178h4v1h-4zM456 178h5v1h-5zM468 178h5v1h-5zM494 178h6v1h-6zM521 178h10v1h-10zM553 178h9v1h-9zM362 179h10v1h-10zM391 179h5v1h-5zM421 179h6v1h-6zM438 179h4v1h-4zM445 179h4v1h-4zM457 179h5v1h-5zM467 179h5v1h-5zM493 179h5v1h-5zM522 179h10v1h-10zM552 179h10v1h-10zM362 180h10v1h-10zM390 180h7v1h-7zM421 180h6v1h-6zM438 180h5v1h-5zM445 180h3v1h-3zM457 180h5v1h-5zM467 180h5v1h-5zM492 180h5v1h-5zM522 180h10v1h-10zM551 180h10v1h-10zM362 181h10v1h-10zM388 181h9v1h-9zM420 181h7v1h-7zM438 181h10v1h-10zM458 181h4v1h-4zM467 181h5v1h-5zM492 181h5v1h-5zM524 181h10v1h-10zM550 181h10v1h-10zM362 182h10v1h-10zM387 182h10v1h-10zM419 182h8v1h-8zM438 182h10v1h-10zM458 182h4v1h-4zM467 182h5v1h-5zM492 182h5v1h-5zM525 182h34v1h-34zM328 183h6v1h-6zM362 183h10v1h-10zM386 183h11v1h-11zM418 183h9v1h-9zM437 183h10v1h-10zM458 183h4v1h-4zM467 183h5v1h-5zM492 183h5v1h-5zM527 183h31v1h-31zM327 184h9v1h-9zM363 184h10v1h-10zM386 184h3v1h-3zM391 184h7v1h-7zM418 184h9v1h-9zM437 184h10v1h-10zM458 184h5v1h-5zM466 184h5v1h-5zM492 184h5v1h-5zM528 184h29v1h-29zM327 185h9v1h-9zM365 185h11v1h-11zM385 185h3v1h-3zM392 185h6v1h-6zM418 185h10v1h-10zM436 185h9v1h-9zM458 185h12v1h-12zM491 185h5v1h-5zM530 185h26v1h-26zM327 186h10v1h-10zM372 186h7v1h-7zM384 186h4v1h-4zM393 186h7v1h-7zM419 186h22v1h-22zM458 186h10v1h-10zM490 186h6v1h-6zM538 186h17v1h-17zM327 187h12v1h-12zM376 187h12v1h-12zM395 187h10v1h-10zM420 187h19v1h-19zM458 187h8v1h-8zM488 187h6v1h-6zM504 187h11v1h-11zM315 188h4v1h-4zM327 188h6v1h-6zM335 188h5v1h-5zM377 188h10v1h-10zM396 188h11v1h-11zM421 188h17v1h-17zM457 188h7v1h-7zM484 188h9v1h-9zM503 188h13v1h-13zM257 189h4v1h-4zM313 189h8v1h-8zM327 189h5v1h-5zM336 189h5v1h-5zM348 189h3v1h-3zM378 189h9v1h-9zM397 189h11v1h-11zM422 189h11v1h-11zM435 189h3v1h-3zM457 189h5v1h-5zM483 189h9v1h-9zM502 189h14v1h-14zM257 190h5v1h-5zM312 190h10v1h-10zM327 190h5v1h-5zM337 190h5v1h-5zM347 190h5v1h-5zM380 190h7v1h-7zM397 190h13v1h-13zM423 190h9v1h-9zM435 190h3v1h-3zM456 190h6v1h-6zM482 190h8v1h-8zM502 190h14v1h-14zM257 191h6v1h-6zM310 191h12v1h-12zM327 191h5v1h-5zM337 191h5v1h-5zM347 191h5v1h-5zM381 191h6v1h-6zM399 191h14v1h-14zM424 191h8v1h-8zM435 191h3v1h-3zM455 191h6v1h-6zM482 191h6v1h-6zM502 191h13v1h-13zM257 192h8v1h-8zM309 192h13v1h-13zM327 192h5v1h-5zM337 192h5v1h-5zM347 192h5v1h-5zM383 192h4v1h-4zM406 192h10v1h-10zM425 192h7v1h-7zM435 192h3v1h-3zM454 192h7v1h-7zM482 192h5v1h-5zM502 192h12v1h-12zM257 193h9v1h-9zM308 193h14v1h-14zM327 193h5v1h-5zM337 193h5v1h-5zM347 193h5v1h-5zM383 193h4v1h-4zM410 193h7v1h-7zM426 193h6v1h-6zM435 193h3v1h-3zM452 193h9v1h-9zM481 193h5v1h-5zM502 193h11v1h-11zM257 194h9v1h-9zM307 194h15v1h-15zM327 194h5v1h-5zM337 194h5v1h-5zM347 194h5v1h-5zM384 194h2v1h-2zM412 194h5v1h-5zM427 194h6v1h-6zM435 194h3v1h-3zM452 194h9v1h-9zM481 194h4v1h-4zM502 194h10v1h-10zM613 194h2v1h-2zM257 195h10v1h-10zM306 195h17v1h-17zM326 195h6v1h-6zM338 195h5v1h-5zM348 195h3v1h-3zM413 195h5v1h-5zM428 195h10v1h-10zM451 195h9v1h-9zM478 195h6v1h-6zM502 195h9v1h-9zM612 195h4v1h-4zM257 196h10v1h-10zM305 196h27v1h-27zM338 196h5v1h-5zM414 196h5v1h-5zM429 196h8v1h-8zM450 196h10v1h-10zM475 196h7v1h-7zM502 196h8v1h-8zM611 196h6v1h-6zM257 197h10v1h-10zM299 197h33v1h-33zM339 197h4v1h-4zM415 197h6v1h-6zM431 197h5v1h-5zM449 197h10v1h-10zM474 197h4v1h-4zM502 197h7v1h-7zM611 197h7v1h-7zM257 198h10v1h-10zM298 198h34v1h-34zM340 198h3v1h-3zM416 198h5v1h-5zM448 198h5v1h-5zM455 198h4v1h-4zM473 198h4v1h-4zM502 198h6v1h-6zM611 198h9v1h-9zM644 198h3v1h-3zM257 199h10v1h-10zM297 199h35v1h-35zM340 199h3v1h-3zM417 199h5v1h-5zM446 199h6v1h-6zM455 199h3v1h-3zM471 199h5v1h-5zM502 199h5v1h-5zM611 199h3v1h-3zM616 199h5v1h-5zM643 199h4v1h-4zM257 200h11v1h-11zM296 200h37v1h-37zM341 200h2v1h-2zM417 200h6v1h-6zM443 200h7v1h-7zM456 200h2v1h-2zM468 200h7v1h-7zM503 200h3v1h-3zM610 200h3v1h-3zM617 200h5v1h-5zM642 200h5v1h-5zM257 201h12v1h-12zM295 201h39v1h-39zM341 201h2v1h-2zM417 201h7v1h-7zM442 201h5v1h-5zM456 201h2v1h-2zM467 201h5v1h-5zM610 201h3v1h-3zM617 201h5v1h-5zM641 201h6v1h-6zM257 202h14v1h-14zM293 202h43v1h-43zM341 202h2v1h-2zM417 202h13v1h-13zM441 202h3v1h-3zM456 202h2v1h-2zM466 202h3v1h-3zM579 202h7v1h-7zM609 202h4v1h-4zM617 202h5v1h-5zM641 202h4v1h-4zM257 203h18v1h-18zM289 203h24v1h-24zM316 203h21v1h-21zM340 203h3v1h-3zM348 203h3v1h-3zM417 203h14v1h-14zM440 203h3v1h-3zM456 203h3v1h-3zM465 203h3v1h-3zM578 203h11v1h-11zM609 203h4v1h-4zM617 203h5v1h-5zM641 203h3v1h-3zM257 204h20v1h-20zM287 204h26v1h-26zM316 204h27v1h-27zM347 204h5v1h-5zM418 204h14v1h-14zM439 204h3v1h-3zM456 204h3v1h-3zM464 204h3v1h-3zM577 204h13v1h-13zM609 204h4v1h-4zM616 204h6v1h-6zM640 204h3v1h-3zM257 205h22v1h-22zM285 205h28v1h-28zM316 205h27v1h-27zM347 205h5v1h-5zM420 205h12v1h-12zM438 205h3v1h-3zM456 205h10v1h-10zM577 205h14v1h-14zM609 205h14v1h-14zM639 205h4v1h-4zM257 206h74v1h-74zM337 206h4v1h-4zM347 206h5v1h-5zM426 206h6v1h-6zM436 206h4v1h-4zM458 206h7v1h-7zM577 206h15v1h-15zM609 206h15v1h-15zM637 206h5v1h-5zM260 207h14v1h-14zM275 207h13v1h-13zM295 207h29v1h-29zM347 207h5v1h-5zM427 207h5v1h-5zM436 207h3v1h-3zM577 207h16v1h-16zM611 207h30v1h-30zM261 208h11v1h-11zM296 208h27v1h-27zM347 208h5v1h-5zM363 208h9v1h-9zM377 208h7v1h-7zM428 208h5v1h-5zM435 208h3v1h-3zM577 208h28v1h-28zM615 208h23v1h-23zM262 209h10v1h-10zM297 209h25v1h-25zM347 209h5v1h-5zM362 209h23v1h-23zM429 209h8v1h-8zM577 209h30v1h-30zM616 209h12v1h-12zM263 210h8v1h-8zM297 210h24v1h-24zM348 210h5v1h-5zM362 210h24v1h-24zM430 210h6v1h-6zM578 210h29v1h-29zM617 210h9v1h-9zM264 211h5v1h-5zM297 211h23v1h-23zM348 211h6v1h-6zM362 211h24v1h-24zM579 211h28v1h-28zM617 211h8v1h-8zM297 212h22v1h-22zM348 212h7v1h-7zM362 212h7v1h-7zM380 212h6v1h-6zM580 212h9v1h-9zM600 212h7v1h-7zM617 212h6v1h-6zM297 213h21v1h-21zM348 213h8v1h-8zM362 213h6v1h-6zM381 213h6v1h-6zM581 213h7v1h-7zM601 213h6v1h-6zM617 213h6v1h-6zM297 214h20v1h-20zM349 214h8v1h-8zM362 214h5v1h-5zM382 214h5v1h-5zM582 214h6v1h-6zM602 214h5v1h-5zM616 214h6v1h-6zM297 215h19v1h-19zM349 215h8v1h-8zM361 215h5v1h-5zM382 215h6v1h-6zM582 215h6v1h-6zM602 215h6v1h-6zM614 215h7v1h-7zM297 216h18v1h-18zM350 216h7v1h-7zM361 216h5v1h-5zM382 216h7v1h-7zM582 216h7v1h-7zM602 216h18v1h-18zM257 217h3v1h-3zM297 217h7v1h-7zM351 217h6v1h-6zM361 217h4v1h-4zM382 217h8v1h-8zM582 217h13v1h-13zM602 217h16v1h-16zM257 218h4v1h-4zM297 218h6v1h-6zM351 218h6v1h-6zM361 218h3v1h-3zM382 218h9v1h-9zM582 218h14v1h-14zM602 218h13v1h-13zM257 219h5v1h-5zM297 219h5v1h-5zM352 219h5v1h-5zM360 219h4v1h-4zM382 219h10v1h-10zM583 219h14v1h-14zM602 219h11v1h-11zM257 220h5v1h-5zM297 220h4v1h-4zM352 220h6v1h-6zM360 220h4v1h-4zM381 220h11v1h-11zM585 220h13v1h-13zM601 220h11v1h-11zM257 221h5v1h-5zM296 221h5v1h-5zM352 221h13v1h-13zM380 221h12v1h-12zM591 221h19v1h-19zM257 222h5v1h-5zM296 222h4v1h-4zM352 222h18v1h-18zM379 222h13v1h-13zM535 222h30v1h-30zM592 222h17v1h-17zM257 223h5v1h-5zM296 223h3v1h-3zM352 223h19v1h-19zM378 223h14v1h-14zM534 223h32v1h-32zM593 223h15v1h-15zM257 224h5v1h-5zM295 224h3v1h-3zM352 224h20v1h-20zM377 224h15v1h-15zM534 224h32v1h-32zM593 224h15v1h-15zM257 225h5v1h-5zM294 225h4v1h-4zM351 225h22v1h-22zM376 225h15v1h-15zM533 225h33v1h-33zM594 225h14v1h-14zM257 226h5v1h-5zM281 226h16v1h-16zM351 226h39v1h-39zM533 226h32v1h-32zM603 226h5v1h-5zM262 227h8v1h-8zM279 227h17v1h-17zM324 227h7v1h-7zM349 227h35v1h-35zM533 227h31v1h-31zM604 227h4v1h-4zM624 227h7v1h-7zM262 228h9v1h-9zM277 228h7v1h-7zM323 228h16v1h-16zM348 228h10v1h-10zM361 228h22v1h-22zM532 228h31v1h-31zM605 228h3v1h-3zM623 228h12v1h-12zM263 229h9v1h-9zM276 229h6v1h-6zM322 229h19v1h-19zM347 229h10v1h-10zM362 229h20v1h-20zM532 229h30v1h-30zM606 229h3v1h-3zM622 229h15v1h-15zM263 230h18v1h-18zM322 230h20v1h-20zM346 230h10v1h-10zM365 230h16v1h-16zM532 230h30v1h-30zM606 230h3v1h-3zM621 230h17v1h-17zM264 231h16v1h-16zM322 231h33v1h-33zM373 231h7v1h-7zM532 231h30v1h-30zM606 231h4v1h-4zM620 231h19v1h-19zM265 232h13v1h-13zM322 232h32v1h-32zM532 232h30v1h-30zM606 232h23v1h-23zM634 232h6v1h-6zM266 233h8v1h-8zM322 233h31v1h-31zM532 233h30v1h-30zM573 233h12v1h-12zM607 233h21v1h-21zM636 233h5v1h-5zM266 234h6v1h-6zM322 234h30v1h-30zM433 234h3v1h-3zM532 234h30v1h-30zM572 234h15v1h-15zM607 234h20v1h-20zM637 234h5v1h-5zM266 235h6v1h-6zM321 235h30v1h-30zM432 235h4v1h-4zM533 235h28v1h-28zM572 235h16v1h-16zM609 235h17v1h-17zM637 235h7v1h-7zM265 236h6v1h-6zM320 236h30v1h-30zM433 236h2v1h-2zM456 236h7v1h-7zM534 236h26v1h-26zM572 236h17v1h-17zM639 236h8v1h-8zM264 237h5v1h-5zM309 237h40v1h-40zM429 237h3v1h-3zM454 237h15v1h-15zM483 237h12v1h-12zM520 237h5v1h-5zM572 237h18v1h-18zM641 237h6v1h-6zM263 238h5v1h-5zM308 238h39v1h-39zM428 238h4v1h-4zM453 238h18v1h-18zM479 238h17v1h-17zM518 238h8v1h-8zM572 238h6v1h-6zM581 238h10v1h-10zM261 239h6v1h-6zM307 239h40v1h-40zM428 239h4v1h-4zM442 239h4v1h-4zM452 239h6v1h-6zM461 239h11v1h-11zM478 239h19v1h-19zM517 239h10v1h-10zM572 239h5v1h-5zM581 239h11v1h-11zM257 240h8v1h-8zM306 240h40v1h-40zM428 240h4v1h-4zM441 240h6v1h-6zM452 240h5v1h-5zM462 240h11v1h-11zM477 240h21v1h-21zM517 240h10v1h-10zM572 240h4v1h-4zM581 240h11v1h-11zM305 241h39v1h-39zM429 241h3v1h-3zM440 241h7v1h-7zM452 241h5v1h-5zM462 241h37v1h-37zM515 241h12v1h-12zM571 241h5v1h-5zM581 241h11v1h-11zM293 242h31v1h-31zM432 242h15v1h-15zM452 242h5v1h-5zM462 242h65v1h-65zM571 242h4v1h-4zM581 242h4v1h-4zM592 242h8v1h-8zM290 243h33v1h-33zM432 243h15v1h-15zM452 243h5v1h-5zM462 243h21v1h-21zM486 243h41v1h-41zM571 243h3v1h-3zM581 243h3v1h-3zM592 243h9v1h-9zM288 244h34v1h-34zM432 244h15v1h-15zM452 244h6v1h-6zM462 244h20v1h-20zM486 244h41v1h-41zM571 244h3v1h-3zM580 244h3v1h-3zM592 244h9v1h-9zM287 245h34v1h-34zM432 245h15v1h-15zM453 245h5v1h-5zM461 245h21v1h-21zM486 245h41v1h-41zM571 245h3v1h-3zM577 245h6v1h-6zM592 245h9v1h-9zM287 246h33v1h-33zM432 246h15v1h-15zM453 246h29v1h-29zM485 246h42v1h-42zM571 246h10v1h-10zM592 246h8v1h-8zM287 247h27v1h-27zM415 247h5v1h-5zM432 247h15v1h-15zM455 247h24v1h-24zM482 247h45v1h-45zM571 247h7v1h-7zM592 247h7v1h-7zM287 248h26v1h-26zM413 248h8v1h-8zM432 248h15v1h-15zM456 248h22v1h-22zM482 248h45v1h-45zM563 248h3v1h-3zM572 248h5v1h-5zM592 248h6v1h-6zM287 249h25v1h-25zM413 249h9v1h-9zM432 249h15v1h-15zM456 249h22v1h-22zM482 249h45v1h-45zM563 249h3v1h-3zM573 249h3v1h-3zM592 249h5v1h-5zM287 250h24v1h-24zM412 250h10v1h-10zM432 250h15v1h-15zM457 250h22v1h-22zM481 250h45v1h-45zM563 250h2v1h-2zM593 250h3v1h-3zM287 251h23v1h-23zM412 251h10v1h-10zM432 251h15v1h-15zM457 251h68v1h-68zM287 252h17v1h-17zM412 252h10v1h-10zM432 252h12v1h-12zM447 252h3v1h-3zM457 252h12v1h-12zM474 252h50v1h-50zM287 253h16v1h-16zM412 253h10v1h-10zM432 253h11v1h-11zM447 253h4v1h-4zM457 253h11v1h-11zM476 253h47v1h-47zM608 253h3v1h-3zM288 254h14v1h-14zM412 254h10v1h-10zM432 254h10v1h-10zM447 254h5v1h-5zM457 254h10v1h-10zM476 254h46v1h-46zM608 254h3v1h-3zM290 255h11v1h-11zM412 255h9v1h-9zM433 255h8v1h-8zM447 255h6v1h-6zM457 255h9v1h-9zM476 255h45v1h-45zM608 255h3v1h-3zM412 256h8v1h-8zM434 256h6v1h-6zM447 256h7v1h-7zM457 256h8v1h-8zM475 256h45v1h-45zM412 257h7v1h-7zM447 257h10v1h-10zM474 257h45v1h-45zM412 258h5v1h-5zM447 258h10v1h-10zM473 258h15v1h-15zM491 258h27v1h-27zM413 259h3v1h-3zM448 259h9v1h-9zM473 259h14v1h-14zM492 259h25v1h-25zM448 260h8v1h-8zM473 260h13v1h-13zM493 260h23v1h-23zM450 261h5v1h-5zM474 261h11v1h-11zM494 261h21v1h-21z"/>
<path fill="#ff9b00" d="M513 136h5v1h-5zM512 137h8v1h-8zM511 138h10v1h-10zM511 139h3v1h-3zM516 139h6v1h-6zM510 140h3v1h-3zM517 140h6v1h-6zM314 141h1v1h-1zM510 141h3v1h-3zM518 141h6v1h-6zM314 142h1v1h-1zM385 142h4v1h-4zM510 142h3v1h-3zM520 142h5v1h-5zM314 143h1v1h-1zM384 143h7v1h-7zM509 143h4v1h-4zM521 143h5v1h-5zM568 143h3v1h-3zM384 144h8v1h-8zM509 144h3v1h-3zM522 144h5v1h-5zM567 144h5v1h-5zM383 145h9v1h-9zM509 145h3v1h-3zM522 145h6v1h-6zM567 145h5v1h-5zM383 146h10v1h-10zM508 146h4v1h-4zM523 146h6v1h-6zM567 146h5v1h-5zM383 147h11v1h-11zM508 147h4v1h-4zM525 147h5v1h-5zM567 147h5v1h-5zM383 148h13v1h-13zM508 148h4v1h-4zM526 148h4v1h-4zM567 148h5v1h-5zM383 149h13v1h-13zM507 149h5v1h-5zM527 149h4v1h-4zM567 149h5v1h-5zM383 150h14v1h-14zM507 150h6v1h-6zM527 150h4v1h-4zM568 150h3v1h-3zM383 151h14v1h-14zM506 151h8v1h-8zM528 151h4v1h-4zM383 152h14v1h-14zM504 152h11v1h-11zM529 152h4v1h-4zM382 153h15v1h-15zM503 153h14v1h-14zM531 153h4v1h-4zM382 154h15v1h-15zM502 154h15v1h-15zM531 154h6v1h-6zM382 155h16v1h-16zM502 155h16v1h-16zM532 155h7v1h-7zM382 156h16v1h-16zM501 156h18v1h-18zM533 156h8v1h-8zM354 157h6v1h-6zM382 157h18v1h-18zM499 157h10v1h-10zM514 157h7v1h-7zM536 157h7v1h-7zM353 158h8v1h-8zM382 158h19v1h-19zM498 158h10v1h-10zM516 158h5v1h-5zM539 158h6v1h-6zM352 159h10v1h-10zM382 159h20v1h-20zM497 159h10v1h-10zM516 159h6v1h-6zM541 159h6v1h-6zM352 160h11v1h-11zM381 160h23v1h-23zM495 160h12v1h-12zM517 160h5v1h-5zM542 160h6v1h-6zM352 161h12v1h-12zM380 161h28v1h-28zM493 161h14v1h-14zM517 161h5v1h-5zM543 161h6v1h-6zM352 162h58v1h-58zM492 162h15v1h-15zM517 162h5v1h-5zM545 162h5v1h-5zM352 163h46v1h-46zM404 163h7v1h-7zM492 163h3v1h-3zM501 163h6v1h-6zM517 163h5v1h-5zM546 163h5v1h-5zM353 164h44v1h-44zM406 164h6v1h-6zM491 164h3v1h-3zM502 164h5v1h-5zM517 164h6v1h-6zM546 164h6v1h-6zM353 165h44v1h-44zM407 165h6v1h-6zM490 165h3v1h-3zM502 165h5v1h-5zM518 165h5v1h-5zM547 165h5v1h-5zM355 166h42v1h-42zM408 166h6v1h-6zM490 166h3v1h-3zM502 166h5v1h-5zM518 166h6v1h-6zM547 166h6v1h-6zM360 167h37v1h-37zM410 167h5v1h-5zM489 167h4v1h-4zM502 167h5v1h-5zM520 167h6v1h-6zM547 167h8v1h-8zM361 168h27v1h-27zM391 168h6v1h-6zM411 168h5v1h-5zM488 168h4v1h-4zM502 168h5v1h-5zM521 168h5v1h-5zM547 168h9v1h-9zM362 169h25v1h-25zM392 169h5v1h-5zM411 169h6v1h-6zM487 169h5v1h-5zM501 169h6v1h-6zM521 169h6v1h-6zM547 169h9v1h-9zM363 170h24v1h-24zM392 170h5v1h-5zM412 170h5v1h-5zM486 170h6v1h-6zM501 170h5v1h-5zM522 170h6v1h-6zM547 170h10v1h-10zM364 171h23v1h-23zM392 171h5v1h-5zM412 171h5v1h-5zM485 171h6v1h-6zM500 171h5v1h-5zM522 171h7v1h-7zM547 171h10v1h-10zM365 172h22v1h-22zM392 172h5v1h-5zM412 172h5v1h-5zM483 172h6v1h-6zM498 172h6v1h-6zM522 172h8v1h-8zM547 172h10v1h-10zM366 173h12v1h-12zM381 173h6v1h-6zM392 173h5v1h-5zM412 173h5v1h-5zM430 173h5v1h-5zM479 173h9v1h-9zM497 173h6v1h-6zM522 173h10v1h-10zM547 173h10v1h-10zM367 174h10v1h-10zM382 174h5v1h-5zM392 174h6v1h-6zM412 174h5v1h-5zM428 174h8v1h-8zM477 174h11v1h-11zM496 174h6v1h-6zM523 174h9v1h-9zM547 174h10v1h-10zM368 175h9v1h-9zM382 175h6v1h-6zM392 175h6v1h-6zM412 175h6v1h-6zM427 175h10v1h-10zM476 175h11v1h-11zM494 175h6v1h-6zM523 175h10v1h-10zM546 175h10v1h-10zM369 176h8v1h-8zM382 176h7v1h-7zM392 176h7v1h-7zM412 176h7v1h-7zM427 176h11v1h-11zM475 176h12v1h-12zM490 176h8v1h-8zM525 176h10v1h-10zM545 176h10v1h-10zM370 177h7v1h-7zM382 177h10v1h-10zM394 177h7v1h-7zM412 177h8v1h-8zM427 177h11v1h-11zM474 177h6v1h-6zM487 177h9v1h-9zM529 177h25v1h-25zM371 178h6v1h-6zM382 178h10v1h-10zM396 178h5v1h-5zM412 178h9v1h-9zM427 178h6v1h-6zM434 178h4v1h-4zM450 178h6v1h-6zM473 178h5v1h-5zM487 178h7v1h-7zM531 178h22v1h-22zM372 179h5v1h-5zM382 179h9v1h-9zM396 179h6v1h-6zM412 179h9v1h-9zM427 179h6v1h-6zM435 179h3v1h-3zM449 179h8v1h-8zM472 179h6v1h-6zM487 179h6v1h-6zM532 179h20v1h-20zM372 180h6v1h-6zM381 180h9v1h-9zM397 180h6v1h-6zM411 180h10v1h-10zM427 180h6v1h-6zM434 180h4v1h-4zM448 180h9v1h-9zM472 180h5v1h-5zM487 180h5v1h-5zM532 180h19v1h-19zM372 181h16v1h-16zM397 181h7v1h-7zM410 181h10v1h-10zM427 181h11v1h-11zM448 181h10v1h-10zM472 181h5v1h-5zM487 181h5v1h-5zM534 181h16v1h-16zM372 182h15v1h-15zM397 182h22v1h-22zM427 182h11v1h-11zM448 182h10v1h-10zM472 182h5v1h-5zM487 182h5v1h-5zM372 183h14v1h-14zM397 183h21v1h-21zM427 183h10v1h-10zM447 183h6v1h-6zM454 183h4v1h-4zM472 183h5v1h-5zM487 183h5v1h-5zM373 184h13v1h-13zM398 184h20v1h-20zM427 184h10v1h-10zM447 184h6v1h-6zM455 184h3v1h-3zM471 184h6v1h-6zM486 184h6v1h-6zM376 185h9v1h-9zM398 185h20v1h-20zM428 185h8v1h-8zM445 185h8v1h-8zM454 185h4v1h-4zM470 185h7v1h-7zM484 185h7v1h-7zM379 186h5v1h-5zM400 186h19v1h-19zM441 186h17v1h-17zM468 186h9v1h-9zM481 186h9v1h-9zM405 187h15v1h-15zM439 187h19v1h-19zM466 187h8v1h-8zM477 187h11v1h-11zM333 188h2v1h-2zM407 188h14v1h-14zM438 188h19v1h-19zM464 188h6v1h-6zM477 188h7v1h-7zM332 189h4v1h-4zM408 189h14v1h-14zM438 189h5v1h-5zM446 189h11v1h-11zM462 189h6v1h-6zM477 189h6v1h-6zM332 190h5v1h-5zM410 190h13v1h-13zM438 190h4v1h-4zM447 190h9v1h-9zM462 190h5v1h-5zM476 190h6v1h-6zM332 191h5v1h-5zM413 191h11v1h-11zM438 191h4v1h-4zM447 191h8v1h-8zM461 191h5v1h-5zM475 191h7v1h-7zM332 192h5v1h-5zM416 192h9v1h-9zM438 192h4v1h-4zM447 192h7v1h-7zM461 192h4v1h-4zM474 192h8v1h-8zM332 193h5v1h-5zM417 193h9v1h-9zM438 193h4v1h-4zM447 193h5v1h-5zM461 193h3v1h-3zM472 193h9v1h-9zM332 194h5v1h-5zM417 194h10v1h-10zM438 194h4v1h-4zM446 194h6v1h-6zM461 194h3v1h-3zM472 194h9v1h-9zM332 195h6v1h-6zM418 195h10v1h-10zM438 195h5v1h-5zM446 195h5v1h-5zM460 195h4v1h-4zM471 195h7v1h-7zM332 196h6v1h-6zM419 196h10v1h-10zM437 196h13v1h-13zM460 196h5v1h-5zM469 196h6v1h-6zM332 197h7v1h-7zM421 197h10v1h-10zM436 197h13v1h-13zM459 197h15v1h-15zM332 198h8v1h-8zM421 198h27v1h-27zM459 198h14v1h-14zM332 199h8v1h-8zM422 199h24v1h-24zM458 199h13v1h-13zM614 199h2v1h-2zM333 200h8v1h-8zM423 200h20v1h-20zM458 200h10v1h-10zM613 200h4v1h-4zM334 201h7v1h-7zM424 201h18v1h-18zM458 201h9v1h-9zM613 201h4v1h-4zM336 202h5v1h-5zM430 202h11v1h-11zM458 202h8v1h-8zM613 202h4v1h-4zM645 202h2v1h-2zM313 203h3v1h-3zM337 203h3v1h-3zM431 203h9v1h-9zM459 203h6v1h-6zM613 203h4v1h-4zM644 203h3v1h-3zM313 204h3v1h-3zM432 204h7v1h-7zM459 204h5v1h-5zM613 204h3v1h-3zM643 204h4v1h-4zM313 205h3v1h-3zM432 205h6v1h-6zM643 205h4v1h-4zM432 206h4v1h-4zM642 206h5v1h-5zM257 207h3v1h-3zM274 207h1v1h-1zM288 207h7v1h-7zM432 207h4v1h-4zM641 207h6v1h-6zM257 208h4v1h-4zM272 208h24v1h-24zM433 208h2v1h-2zM638 208h9v1h-9zM257 209h5v1h-5zM272 209h25v1h-25zM628 209h19v1h-19zM257 210h6v1h-6zM271 210h26v1h-26zM626 210h21v1h-21zM257 211h7v1h-7zM269 211h28v1h-28zM625 211h22v1h-22zM257 212h18v1h-18zM290 212h7v1h-7zM369 212h11v1h-11zM589 212h11v1h-11zM623 212h7v1h-7zM635 212h12v1h-12zM257 213h16v1h-16zM291 213h6v1h-6zM368 213h13v1h-13zM588 213h13v1h-13zM623 213h5v1h-5zM636 213h11v1h-11zM257 214h16v1h-16zM292 214h5v1h-5zM367 214h15v1h-15zM588 214h14v1h-14zM622 214h6v1h-6zM637 214h10v1h-10zM257 215h15v1h-15zM292 215h5v1h-5zM366 215h16v1h-16zM588 215h14v1h-14zM621 215h6v1h-6zM638 215h9v1h-9zM257 216h15v1h-15zM292 216h5v1h-5zM366 216h16v1h-16zM589 216h13v1h-13zM620 216h7v1h-7zM639 216h8v1h-8zM260 217h12v1h-12zM292 217h5v1h-5zM365 217h17v1h-17zM595 217h7v1h-7zM618 217h9v1h-9zM640 217h7v1h-7zM261 218h11v1h-11zM292 218h5v1h-5zM364 218h18v1h-18zM596 218h6v1h-6zM615 218h12v1h-12zM641 218h6v1h-6zM262 219h10v1h-10zM292 219h5v1h-5zM364 219h18v1h-18zM597 219h5v1h-5zM613 219h14v1h-14zM642 219h5v1h-5zM262 220h11v1h-11zM291 220h6v1h-6zM364 220h17v1h-17zM598 220h3v1h-3zM612 220h16v1h-16zM643 220h4v1h-4zM262 221h12v1h-12zM290 221h6v1h-6zM365 221h15v1h-15zM610 221h19v1h-19zM644 221h3v1h-3zM262 222h34v1h-34zM370 222h9v1h-9zM609 222h21v1h-21zM262 223h34v1h-34zM371 223h7v1h-7zM608 223h24v1h-24zM262 224h33v1h-33zM372 224h5v1h-5zM608 224h25v1h-25zM262 225h32v1h-32zM373 225h3v1h-3zM608 225h27v1h-27zM262 226h19v1h-19zM608 226h30v1h-30zM257 227h5v1h-5zM270 227h9v1h-9zM608 227h16v1h-16zM631 227h10v1h-10zM257 228h5v1h-5zM271 228h6v1h-6zM608 228h15v1h-15zM635 228h7v1h-7zM257 229h6v1h-6zM272 229h4v1h-4zM609 229h13v1h-13zM637 229h5v1h-5zM257 230h6v1h-6zM609 230h12v1h-12zM638 230h5v1h-5zM257 231h7v1h-7zM610 231h10v1h-10zM639 231h6v1h-6zM259 232h6v1h-6zM640 232h7v1h-7zM261 233h5v1h-5zM641 233h6v1h-6zM261 234h5v1h-5zM642 234h5v1h-5zM261 235h5v1h-5zM644 235h3v1h-3zM259 236h6v1h-6zM257 237h7v1h-7zM257 238h6v1h-6zM578 238h3v1h-3zM257 239h4v1h-4zM458 239h3v1h-3zM577 239h4v1h-4zM457 240h5v1h-5zM576 240h5v1h-5zM457 241h5v1h-5zM576 241h5v1h-5zM457 242h5v1h-5zM575 242h6v1h-6zM457 243h5v1h-5zM483 243h3v1h-3zM574 243h7v1h-7zM458 244h4v1h-4zM482 244h4v1h-4zM574 244h6v1h-6zM458 245h3v1h-3zM482 245h4v1h-4zM574 245h3v1h-3zM482 246h3v1h-3zM479 247h3v1h-3zM478 248h4v1h-4zM478 249h4v1h-4zM479 250h2v1h-2z"/>
<path fill="#00f0ff" d="M539 137h10v1h-10zM640 137h7v1h-7zM423 138h3v1h-3zM498 138h3v1h-3zM538 138h12v1h-12zM609 138h1v1h-1zM638 138h9v1h-9zM422 139h4v1h-4zM497 139h4v1h-4zM537 139h13v1h-13zM609 139h3v1h-3zM637 139h10v1h-10zM422 140h5v1h-5zM496 140h6v1h-6zM537 140h13v1h-13zM609 140h3v1h-3zM637 140h10v1h-10zM422 141h5v1h-5zM496 141h6v1h-6zM537 141h12v1h-12zM609 141h5v1h-5zM635 141h12v1h-12zM422 142h5v1h-5zM495 142h7v1h-7zM537 142h11v1h-11zM609 142h11v1h-11zM634 142h13v1h-13zM403 143h3v1h-3zM422 143h5v1h-5zM494 143h8v1h-8zM537 143h11v1h-11zM609 143h12v1h-12zM632 143h15v1h-15zM403 144h3v1h-3zM422 144h5v1h-5zM494 144h7v1h-7zM538 144h9v1h-9zM609 144h13v1h-13zM632 144h15v1h-15zM404 145h2v1h-2zM422 145h5v1h-5zM494 145h5v1h-5zM538 145h8v1h-8zM610 145h13v1h-13zM631 145h16v1h-16zM422 146h5v1h-5zM540 146h5v1h-5zM612 146h12v1h-12zM629 146h18v1h-18zM422 147h5v1h-5zM612 147h22v1h-22zM640 147h7v1h-7zM422 148h5v1h-5zM613 148h20v1h-20zM641 148h6v1h-6zM423 149h4v1h-4zM614 149h18v1h-18zM642 149h5v1h-5zM423 150h3v1h-3zM615 150h16v1h-16zM642 150h5v1h-5zM271 151h12v1h-12zM616 151h14v1h-14zM642 151h5v1h-5zM268 152h17v1h-17zM617 152h7v1h-7zM642 152h5v1h-5zM267 153h8v1h-8zM279 153h7v1h-7zM328 153h3v1h-3zM618 153h5v1h-5zM642 153h5v1h-5zM266 154h7v1h-7zM281 154h6v1h-6zM327 154h4v1h-4zM458 154h1v1h-1zM618 154h4v1h-4zM642 154h5v1h-5zM264 155h8v1h-8zM282 155h5v1h-5zM327 155h5v1h-5zM457 155h3v1h-3zM618 155h4v1h-4zM643 155h4v1h-4zM261 156h10v1h-10zM282 156h5v1h-5zM327 156h5v1h-5zM457 156h3v1h-3zM618 156h4v1h-4zM644 156h3v1h-3zM257 157h11v1h-11zM282 157h5v1h-5zM327 157h5v1h-5zM457 157h3v1h-3zM618 157h4v1h-4zM257 158h7v1h-7zM282 158h5v1h-5zM327 158h5v1h-5zM457 158h3v1h-3zM593 158h7v1h-7zM618 158h4v1h-4zM257 159h5v1h-5zM282 159h5v1h-5zM327 159h5v1h-5zM458 159h1v1h-1zM593 159h9v1h-9zM619 159h3v1h-3zM257 160h3v1h-3zM282 160h5v1h-5zM328 160h3v1h-3zM593 160h10v1h-10zM619 160h4v1h-4zM282 161h5v1h-5zM593 161h12v1h-12zM620 161h3v1h-3zM282 162h5v1h-5zM308 162h12v1h-12zM593 162h6v1h-6zM600 162h6v1h-6zM621 162h2v1h-2zM282 163h5v1h-5zM304 163h17v1h-17zM450 163h1v1h-1zM593 163h5v1h-5zM604 163h3v1h-3zM621 163h3v1h-3zM282 164h5v1h-5zM303 164h19v1h-19zM449 164h2v1h-2zM593 164h4v1h-4zM605 164h2v1h-2zM622 164h2v1h-2zM281 165h7v1h-7zM302 165h20v1h-20zM450 165h1v1h-1zM593 165h4v1h-4zM605 165h2v1h-2zM621 165h3v1h-3zM280 166h9v1h-9zM300 166h22v1h-22zM593 166h3v1h-3zM606 166h1v1h-1zM621 166h2v1h-2zM274 167h35v1h-35zM315 167h7v1h-7zM593 167h3v1h-3zM606 167h1v1h-1zM620 167h3v1h-3zM273 168h35v1h-35zM316 168h6v1h-6zM592 168h4v1h-4zM606 168h2v1h-2zM619 168h4v1h-4zM272 169h35v1h-35zM317 169h5v1h-5zM592 169h4v1h-4zM606 169h2v1h-2zM618 169h4v1h-4zM272 170h35v1h-35zM317 170h5v1h-5zM592 170h4v1h-4zM607 170h1v1h-1zM617 170h5v1h-5zM271 171h36v1h-36zM317 171h4v1h-4zM593 171h3v1h-3zM607 171h2v1h-2zM616 171h6v1h-6zM271 172h4v1h-4zM285 172h22v1h-22zM317 172h4v1h-4zM593 172h3v1h-3zM607 172h12v1h-12zM622 172h10v1h-10zM271 173h3v1h-3zM286 173h21v1h-21zM317 173h4v1h-4zM593 173h4v1h-4zM609 173h7v1h-7zM622 173h13v1h-13zM271 174h3v1h-3zM287 174h20v1h-20zM317 174h4v1h-4zM594 174h4v1h-4zM622 174h6v1h-6zM631 174h6v1h-6zM271 175h2v1h-2zM287 175h21v1h-21zM316 175h5v1h-5zM594 175h5v1h-5zM622 175h5v1h-5zM633 175h4v1h-4zM271 176h2v1h-2zM287 176h22v1h-22zM315 176h6v1h-6zM596 176h7v1h-7zM623 176h3v1h-3zM634 176h4v1h-4zM271 177h2v1h-2zM287 177h34v1h-34zM598 177h7v1h-7zM623 177h3v1h-3zM635 177h3v1h-3zM271 178h2v1h-2zM287 178h34v1h-34zM600 178h6v1h-6zM623 178h3v1h-3zM635 178h3v1h-3zM271 179h3v1h-3zM287 179h33v1h-33zM602 179h5v1h-5zM623 179h3v1h-3zM636 179h2v1h-2zM270 180h4v1h-4zM287 180h33v1h-33zM602 180h5v1h-5zM623 180h3v1h-3zM636 180h2v1h-2zM270 181h5v1h-5zM287 181h32v1h-32zM603 181h4v1h-4zM623 181h3v1h-3zM636 181h2v1h-2zM268 182h19v1h-19zM300 182h9v1h-9zM603 182h4v1h-4zM623 182h3v1h-3zM636 182h2v1h-2zM257 183h30v1h-30zM302 183h5v1h-5zM583 183h3v1h-3zM603 183h4v1h-4zM623 183h3v1h-3zM636 183h2v1h-2zM257 184h30v1h-30zM303 184h3v1h-3zM582 184h5v1h-5zM604 184h4v1h-4zM623 184h3v1h-3zM636 184h3v1h-3zM262 185h25v1h-25zM582 185h5v1h-5zM605 185h4v1h-4zM622 185h3v1h-3zM635 185h4v1h-4zM268 186h19v1h-19zM582 186h5v1h-5zM606 186h5v1h-5zM622 186h3v1h-3zM635 186h5v1h-5zM270 187h17v1h-17zM582 187h5v1h-5zM608 187h5v1h-5zM620 187h4v1h-4zM634 187h13v1h-13zM271 188h16v1h-16zM582 188h5v1h-5zM610 188h14v1h-14zM633 188h14v1h-14zM272 189h15v1h-15zM582 189h5v1h-5zM612 189h11v1h-11zM632 189h15v1h-15zM272 190h15v1h-15zM583 190h3v1h-3zM616 190h6v1h-6zM632 190h15v1h-15zM273 191h14v1h-14zM619 191h3v1h-3zM630 191h17v1h-17zM273 192h14v1h-14zM623 192h16v1h-16zM273 193h14v1h-14zM623 193h15v1h-15zM274 194h13v1h-13zM623 194h14v1h-14zM274 195h12v1h-12zM625 195h12v1h-12zM275 196h10v1h-10zM627 196h9v1h-9zM627 197h9v1h-9zM373 198h3v1h-3zM543 198h3v1h-3zM628 198h8v1h-8zM372 199h5v1h-5zM542 199h5v1h-5zM628 199h7v1h-7zM372 200h5v1h-5zM541 200h7v1h-7zM629 200h6v1h-6zM372 201h5v1h-5zM540 201h9v1h-9zM630 201h4v1h-4zM372 202h5v1h-5zM539 202h11v1h-11zM373 203h3v1h-3zM538 203h13v1h-13zM374 204h1v1h-1zM538 204h13v1h-13zM538 205h13v1h-13zM539 206h11v1h-11zM470 207h5v1h-5zM469 208h7v1h-7zM468 209h9v1h-9zM466 210h11v1h-11zM461 211h16v1h-16zM459 212h18v1h-18zM494 212h11v1h-11zM338 213h3v1h-3zM437 213h4v1h-4zM448 213h3v1h-3zM458 213h19v1h-19zM493 213h13v1h-13zM337 214h4v1h-4zM433 214h9v1h-9zM448 214h3v1h-3zM457 214h6v1h-6zM466 214h11v1h-11zM492 214h15v1h-15zM336 215h6v1h-6zM431 215h11v1h-11zM448 215h4v1h-4zM456 215h6v1h-6zM467 215h9v1h-9zM491 215h16v1h-16zM336 216h6v1h-6zM430 216h12v1h-12zM449 216h3v1h-3zM455 216h7v1h-7zM467 216h8v1h-8zM491 216h16v1h-16zM335 217h7v1h-7zM429 217h13v1h-13zM452 217h10v1h-10zM467 217h7v1h-7zM489 217h18v1h-18zM334 218h8v1h-8zM429 218h5v1h-5zM436 218h6v1h-6zM452 218h10v1h-10zM467 218h6v1h-6zM488 218h19v1h-19zM334 219h8v1h-8zM429 219h4v1h-4zM436 219h6v1h-6zM452 219h10v1h-10zM466 219h6v1h-6zM487 219h20v1h-20zM334 220h7v1h-7zM429 220h5v1h-5zM435 220h6v1h-6zM452 220h11v1h-11zM466 220h5v1h-5zM487 220h19v1h-19zM335 221h5v1h-5zM429 221h12v1h-12zM452 221h19v1h-19zM485 221h20v1h-20zM430 222h9v1h-9zM452 222h17v1h-17zM484 222h15v1h-15zM431 223h7v1h-7zM452 223h16v1h-16zM483 223h15v1h-15zM432 224h5v1h-5zM452 224h15v1h-15zM482 224h15v1h-15zM433 225h3v1h-3zM453 225h14v1h-14zM482 225h14v1h-14zM454 226h11v1h-11zM482 226h13v1h-13zM482 227h12v1h-12zM482 228h10v1h-10zM483 229h8v1h-8zM485 230h4v1h-4zM418 234h2v1h-2zM640 243h7v1h-7zM257 244h4v1h-4zM638 244h9v1h-9zM257 245h6v1h-6zM637 245h10v1h-10zM257 246h7v1h-7zM637 246h10v1h-10zM259 247h6v1h-6zM637 247h10v1h-10zM261 248h5v1h-5zM637 248h10v1h-10zM261 249h6v1h-6zM637 249h10v1h-10zM261 250h6v1h-6zM638 250h9v1h-9zM260 251h7v1h-7zM639 251h8v1h-8zM257 252h10v1h-10zM640 252h7v1h-7zM257 253h10v1h-10zM641 253h6v1h-6zM257 254h10v1h-10zM642 254h5v1h-5zM257 255h9v1h-9zM643 255h4v1h-4zM257 256h8v1h-8zM644 256h3v1h-3zM294 267h11v1h-11zM293 268h13v1h-13zM413 268h3v1h-3zM292 269h15v1h-15zM413 269h4v1h-4zM291 270h17v1h-17zM412 270h5v1h-5zM290 271h19v1h-19zM412 271h5v1h-5zM274 272h56v1h-56zM344 272h6v1h-6zM412 272h5v1h-5zM424 272h11v1h-11zM585 272h30v1h-30zM273 273h58v1h-58zM343 273h8v1h-8zM412 273h5v1h-5zM423 273h13v1h-13zM583 273h33v1h-33zM272 274h60v1h-60zM342 274h10v1h-10zM412 274h5v1h-5zM422 274h15v1h-15zM582 274h35v1h-35zM272 275h61v1h-61zM341 275h12v1h-12zM411 275h7v1h-7zM421 275h17v1h-17zM582 275h36v1h-36zM272 276h62v1h-62zM340 276h14v1h-14zM410 276h29v1h-29zM580 276h39v1h-39zM272 277h88v1h-88zM374 277h6v1h-6zM399 277h156v1h-156zM579 277h46v1h-46zM272 278h89v1h-89zM373 278h8v1h-8zM398 278h158v1h-158zM563 278h3v1h-3zM578 278h48v1h-48zM272 279h90v1h-90zM372 279h10v1h-10zM397 279h160v1h-160zM562 279h5v1h-5zM577 279h50v1h-50zM271 280h92v1h-92zM371 280h12v1h-12zM396 280h162v1h-162zM561 280h7v1h-7zM576 280h52v1h-52zM270 281h94v1h-94zM370 281h14v1h-14zM395 281h174v1h-174zM575 281h54v1h-54zM257 282h390v1h-390zM257 283h390v1h-390zM257 284h390v1h-390zM257 285h390v1h-390zM257 286h390v1h-390zM257 287h32v1h-32zM320 287h59v1h-59zM385 287h54v1h-54zM470 287h14v1h-14zM515 287h59v1h-59zM585 287h14v1h-14zM605 287h29v1h-29zM257 288h31v1h-31zM321 288h57v1h-57zM386 288h52v1h-52zM471 288h12v1h-12zM516 288h57v1h-57zM586 288h12v1h-12zM606 288h27v1h-27zM257 289h30v1h-30zM322 289h55v1h-55zM387 289h50v1h-50zM472 289h10v1h-10zM517 289h55v1h-55zM587 289h10v1h-10zM607 289h25v1h-25zM257 290h29v1h-29zM323 290h54v1h-54zM388 290h49v1h-49zM472 290h9v1h-9zM518 290h53v1h-53zM588 290h8v1h-8zM608 290h23v1h-23zM257 291h28v1h-28zM324 291h53v1h-53zM389 291h48v1h-48zM472 291h8v1h-8zM519 291h51v1h-51zM589 291h6v1h-6zM609 291h21v1h-21zM335 292h29v1h-29zM370 292h7v1h-7zM400 292h37v1h-37zM472 292h7v1h-7zM336 293h27v1h-27zM371 293h6v1h-6zM401 293h36v1h-36zM472 293h6v1h-6zM337 294h25v1h-25zM372 294h5v1h-5zM402 294h35v1h-35zM472 294h5v1h-5zM338 295h23v1h-23zM373 295h3v1h-3zM403 295h34v1h-34zM473 295h3v1h-3zM339 296h21v1h-21zM404 296h33v1h-33zM410 297h27v1h-27zM411 298h26v1h-26zM412 299h25v1h-25zM413 300h23v1h-23zM414 301h21v1h-21zM257 337h18v1h-18zM309 337h11v1h-11zM359 337h11v1h-11zM509 337h41v1h-41zM614 337h33v1h-33zM257 338h19v1h-19zM308 338h13v1h-13zM358 338h13v1h-13zM508 338h43v1h-43zM613 338h34v1h-34zM257 339h20v1h-20zM307 339h15v1h-15zM357 339h15v1h-15zM507 339h45v1h-45zM612 339h35v1h-35zM257 340h21v1h-21zM306 340h17v1h-17zM356 340h17v1h-17zM506 340h46v1h-46zM611 340h36v1h-36zM257 341h22v1h-22zM305 341h19v1h-19zM355 341h19v1h-19zM505 341h47v1h-47zM610 341h37v1h-37zM257 342h33v1h-33zM304 342h36v1h-36zM354 342h21v1h-21zM384 342h11v1h-11zM413 342h7v1h-7zM434 342h16v1h-16zM504 342h48v1h-48zM574 342h73v1h-73zM257 343h35v1h-35zM303 343h38v1h-38zM353 343h23v1h-23zM383 343h13v1h-13zM410 343h11v1h-11zM433 343h18v1h-18zM503 343h49v1h-49zM573 343h74v1h-74zM257 344h35v1h-35zM302 344h40v1h-40zM352 344h25v1h-25zM382 344h15v1h-15zM408 344h14v1h-14zM432 344h20v1h-20zM502 344h50v1h-50zM572 344h75v1h-75zM257 345h36v1h-36zM301 345h41v1h-41zM351 345h26v1h-26zM382 345h15v1h-15zM407 345h16v1h-16zM432 345h20v1h-20zM501 345h52v1h-52zM571 345h76v1h-76zM257 346h38v1h-38zM300 346h42v1h-42zM350 346h27v1h-27zM382 346h15v1h-15zM407 346h17v1h-17zM432 346h20v1h-20zM500 346h54v1h-54zM570 346h77v1h-77zM289 347h53v1h-53zM349 347h28v1h-28zM382 347h15v1h-15zM407 347h18v1h-18zM432 347h20v1h-20zM464 347h21v1h-21zM499 347h56v1h-56zM569 347h60v1h-60zM291 348h51v1h-51zM348 348h29v1h-29zM382 348h15v1h-15zM407 348h19v1h-19zM432 348h20v1h-20zM463 348h23v1h-23zM498 348h20v1h-20zM521 348h35v1h-35zM568 348h60v1h-60zM291 349h51v1h-51zM347 349h30v1h-30zM381 349h16v1h-16zM407 349h20v1h-20zM432 349h20v1h-20zM462 349h25v1h-25zM497 349h21v1h-21zM521 349h36v1h-36zM567 349h61v1h-61zM292 350h50v1h-50zM347 350h31v1h-31zM381 350h16v1h-16zM406 350h22v1h-22zM431 350h22v1h-22zM462 350h26v1h-26zM496 350h22v1h-22zM521 350h37v1h-37zM566 350h62v1h-62zM292 351h50v1h-50zM347 351h51v1h-51zM405 351h49v1h-49zM462 351h27v1h-27zM495 351h64v1h-64zM565 351h64v1h-64zM292 352h50v1h-50zM347 352h38v1h-38zM394 352h4v1h-4zM404 352h10v1h-10zM420 352h35v1h-35zM462 352h168v1h-168zM292 353h50v1h-50zM347 353h36v1h-36zM395 353h3v1h-3zM403 353h10v1h-10zM421 353h17v1h-17zM441 353h15v1h-15zM462 353h169v1h-169zM292 354h50v1h-50zM347 354h35v1h-35zM395 354h3v1h-3zM403 354h9v1h-9zM422 354h16v1h-16zM441 354h16v1h-16zM461 354h170v1h-170zM292 355h50v1h-50zM347 355h35v1h-35zM394 355h4v1h-4zM403 355h9v1h-9zM423 355h15v1h-15zM441 355h17v1h-17zM461 355h170v1h-170zM292 356h50v1h-50zM347 356h33v1h-33zM392 356h5v1h-5zM404 356h8v1h-8zM424 356h206v1h-206zM257 357h3v1h-3zM289 357h3v1h-3zM300 357h19v1h-19zM325 357h17v1h-17zM347 357h22v1h-22zM392 357h4v1h-4zM405 357h7v1h-7zM425 357h40v1h-40zM510 357h9v1h-9zM524 357h6v1h-6zM555 357h9v1h-9zM570 357h14v1h-14zM610 357h9v1h-9zM639 357h8v1h-8zM257 358h4v1h-4zM288 358h4v1h-4zM301 358h17v1h-17zM326 358h16v1h-16zM347 358h21v1h-21zM391 358h4v1h-4zM406 358h6v1h-6zM426 358h22v1h-22zM451 358h12v1h-12zM511 358h7v1h-7zM525 358h4v1h-4zM556 358h7v1h-7zM571 358h12v1h-12zM611 358h7v1h-7zM638 358h9v1h-9zM257 359h4v1h-4zM287 359h5v1h-5zM302 359h16v1h-16zM327 359h15v1h-15zM347 359h20v1h-20zM391 359h3v1h-3zM407 359h5v1h-5zM427 359h20v1h-20zM452 359h11v1h-11zM512 359h6v1h-6zM525 359h3v1h-3zM557 359h5v1h-5zM571 359h12v1h-12zM612 359h5v1h-5zM637 359h10v1h-10zM257 360h4v1h-4zM287 360h5v1h-5zM302 360h18v1h-18zM327 360h16v1h-16zM346 360h21v1h-21zM390 360h3v1h-3zM407 360h5v1h-5zM428 360h18v1h-18zM453 360h9v1h-9zM512 360h6v1h-6zM524 360h4v1h-4zM558 360h3v1h-3zM571 360h12v1h-12zM612 360h5v1h-5zM637 360h10v1h-10zM257 361h3v1h-3zM287 361h5v1h-5zM302 361h22v1h-22zM327 361h16v1h-16zM346 361h21v1h-21zM389 361h4v1h-4zM407 361h5v1h-5zM429 361h16v1h-16zM454 361h8v1h-8zM512 361h15v1h-15zM571 361h12v1h-12zM612 361h5v1h-5zM637 361h10v1h-10zM287 362h5v1h-5zM302 362h7v1h-7zM316 362h11v1h-11zM339 362h4v1h-4zM346 362h4v1h-4zM367 362h3v1h-3zM384 362h9v1h-9zM407 362h5v1h-5zM430 362h9v1h-9zM455 362h7v1h-7zM512 362h14v1h-14zM571 362h4v1h-4zM579 362h4v1h-4zM612 362h5v1h-5zM637 362h10v1h-10zM287 363h5v1h-5zM302 363h6v1h-6zM319 363h8v1h-8zM340 363h3v1h-3zM346 363h3v1h-3zM367 363h4v1h-4zM382 363h10v1h-10zM407 363h5v1h-5zM431 363h7v1h-7zM456 363h6v1h-6zM512 363h12v1h-12zM571 363h3v1h-3zM580 363h3v1h-3zM612 363h5v1h-5zM637 363h10v1h-10zM287 364h5v1h-5zM301 364h6v1h-6zM321 364h6v1h-6zM340 364h3v1h-3zM346 364h3v1h-3zM367 364h5v1h-5zM381 364h11v1h-11zM407 364h5v1h-5zM431 364h6v1h-6zM456 364h6v1h-6zM512 364h11v1h-11zM570 364h4v1h-4zM580 364h4v1h-4zM612 364h5v1h-5zM636 364h11v1h-11zM286 365h7v1h-7zM301 365h5v1h-5zM322 365h5v1h-5zM341 365h3v1h-3zM346 365h3v1h-3zM366 365h9v1h-9zM379 365h13v1h-13zM407 365h5v1h-5zM429 365h8v1h-8zM456 365h6v1h-6zM512 365h11v1h-11zM570 365h3v1h-3zM581 365h3v1h-3zM611 365h7v1h-7zM634 365h13v1h-13zM257 366h11v1h-11zM276 366h18v1h-18zM299 366h7v1h-7zM323 366h5v1h-5zM341 366h3v1h-3zM346 366h4v1h-4zM365 366h27v1h-27zM407 366h5v1h-5zM423 366h14v1h-14zM455 366h7v1h-7zM512 366h11v1h-11zM569 366h4v1h-4zM581 366h4v1h-4zM610 366h9v1h-9zM631 366h7v1h-7zM257 367h47v1h-47zM324 367h4v1h-4zM341 367h2v1h-2zM346 367h46v1h-46zM407 367h5v1h-5zM422 367h15v1h-15zM454 367h8v1h-8zM512 367h11v1h-11zM568 367h5v1h-5zM581 367h55v1h-55zM265 368h38v1h-38zM325 368h3v1h-3zM341 368h2v1h-2zM346 368h28v1h-28zM386 368h6v1h-6zM407 368h5v1h-5zM421 368h4v1h-4zM429 368h8v1h-8zM453 368h9v1h-9zM512 368h6v1h-6zM520 368h3v1h-3zM547 368h5v1h-5zM567 368h5v1h-5zM582 368h52v1h-52zM267 369h10v1h-10zM282 369h20v1h-20zM325 369h4v1h-4zM340 369h3v1h-3zM347 369h25v1h-25zM387 369h5v1h-5zM407 369h5v1h-5zM420 369h3v1h-3zM431 369h6v1h-6zM453 369h9v1h-9zM511 369h6v1h-6zM520 369h4v1h-4zM546 369h7v1h-7zM567 369h5v1h-5zM582 369h50v1h-50zM268 370h7v1h-7zM284 370h18v1h-18zM326 370h3v1h-3zM340 370h3v1h-3zM347 370h23v1h-23zM388 370h4v1h-4zM407 370h6v1h-6zM419 370h4v1h-4zM432 370h6v1h-6zM453 370h10v1h-10zM509 370h7v1h-7zM521 370h3v1h-3zM544 370h11v1h-11zM565 370h7v1h-7zM582 370h49v1h-49zM288 371h12v1h-12zM326 371h4v1h-4zM339 371h4v1h-4zM347 371h19v1h-19zM389 371h3v1h-3zM407 371h15v1h-15zM432 371h7v1h-7zM454 371h10v1h-10zM501 371h14v1h-14zM521 371h4v1h-4zM536 371h23v1h-23zM560 371h12v1h-12zM582 371h48v1h-48zM326 372h17v1h-17zM347 372h7v1h-7zM392 372h3v1h-3zM407 372h14v1h-14zM432 372h13v1h-13zM455 372h58v1h-58zM521 372h51v1h-51zM582 372h7v1h-7zM326 373h17v1h-17zM347 373h6v1h-6zM391 373h6v1h-6zM407 373h12v1h-12zM432 373h14v1h-14zM456 373h50v1h-50zM521 373h24v1h-24zM553 373h19v1h-19zM582 373h6v1h-6zM326 374h17v1h-17zM346 374h7v1h-7zM391 374h7v1h-7zM406 374h12v1h-12zM431 374h15v1h-15zM457 374h47v1h-47zM521 374h18v1h-18zM555 374h18v1h-18zM581 374h7v1h-7zM324 375h29v1h-29zM389 375h11v1h-11zM404 375h14v1h-14zM430 375h16v1h-16zM458 375h46v1h-46zM519 375h29v1h-29zM551 375h24v1h-24zM579 375h12v1h-12zM321 376h33v1h-33zM386 376h33v1h-33zM428 376h17v1h-17zM459 376h46v1h-46zM515 376h89v1h-89zM625 376h7v1h-7zM268 377h3v1h-3zM278 377h3v1h-3zM288 377h40v1h-40zM341 377h25v1h-25zM378 377h16v1h-16zM395 377h26v1h-26zM426 377h7v1h-7zM500 377h23v1h-23zM536 377h23v1h-23zM560 377h9v1h-9zM570 377h14v1h-14zM585 377h62v1h-62zM257 378h68v1h-68zM345 378h45v1h-45zM404 378h26v1h-26zM501 378h18v1h-18zM599 378h48v1h-48zM257 379h66v1h-66zM347 379h41v1h-41zM407 379h21v1h-21zM502 379h15v1h-15zM601 379h27v1h-27zM257 380h65v1h-65zM348 380h39v1h-39zM408 380h19v1h-19zM502 380h14v1h-14zM602 380h25v1h-25zM257 381h63v1h-63zM349 381h36v1h-36zM409 381h16v1h-16zM504 381h11v1h-11zM604 381h21v1h-21z"/>
<path fill="#ff6400" d="M514 139h2v1h-2zM513 140h4v1h-4zM513 141h5v1h-5zM513 142h7v1h-7zM513 143h8v1h-8zM512 144h10v1h-10zM512 145h10v1h-10zM512 146h11v1h-11zM512 147h13v1h-13zM512 148h14v1h-14zM512 149h15v1h-15zM513 150h14v1h-14zM514 151h14v1h-14zM515 152h14v1h-14zM517 153h14v1h-14zM517 154h14v1h-14zM518 155h14v1h-14zM519 156h14v1h-14zM521 157h15v1h-15zM521 158h18v1h-18zM522 159h19v1h-19zM522 160h20v1h-20zM522 161h21v1h-21zM522 162h23v1h-23zM398 163h6v1h-6zM495 163h6v1h-6zM522 163h24v1h-24zM397 164h9v1h-9zM494 164h8v1h-8zM523 164h23v1h-23zM397 165h10v1h-10zM493 165h9v1h-9zM523 165h24v1h-24zM397 166h11v1h-11zM493 166h9v1h-9zM524 166h23v1h-23zM397 167h13v1h-13zM493 167h9v1h-9zM526 167h21v1h-21zM397 168h14v1h-14zM492 168h10v1h-10zM526 168h21v1h-21zM397 169h14v1h-14zM492 169h9v1h-9zM527 169h20v1h-20zM397 170h15v1h-15zM492 170h9v1h-9zM528 170h19v1h-19zM397 171h15v1h-15zM491 171h9v1h-9zM529 171h18v1h-18zM397 172h15v1h-15zM489 172h9v1h-9zM530 172h17v1h-17zM378 173h3v1h-3zM397 173h15v1h-15zM488 173h9v1h-9zM532 173h15v1h-15zM377 174h5v1h-5zM398 174h14v1h-14zM488 174h8v1h-8zM532 174h15v1h-15zM377 175h5v1h-5zM398 175h14v1h-14zM487 175h7v1h-7zM533 175h13v1h-13zM377 176h5v1h-5zM399 176h13v1h-13zM487 176h3v1h-3zM535 176h10v1h-10zM377 177h5v1h-5zM401 177h11v1h-11zM480 177h7v1h-7zM377 178h5v1h-5zM401 178h11v1h-11zM433 178h1v1h-1zM478 178h9v1h-9zM377 179h5v1h-5zM402 179h10v1h-10zM433 179h2v1h-2zM478 179h9v1h-9zM378 180h3v1h-3zM403 180h8v1h-8zM433 180h1v1h-1zM477 180h10v1h-10zM404 181h6v1h-6zM477 181h10v1h-10zM477 182h10v1h-10zM453 183h1v1h-1zM477 183h10v1h-10zM453 184h2v1h-2zM477 184h9v1h-9zM453 185h1v1h-1zM477 185h7v1h-7zM477 186h4v1h-4zM474 187h3v1h-3zM470 188h7v1h-7zM443 189h3v1h-3zM468 189h9v1h-9zM442 190h5v1h-5zM467 190h9v1h-9zM442 191h5v1h-5zM466 191h9v1h-9zM442 192h5v1h-5zM465 192h9v1h-9zM442 193h5v1h-5zM464 193h8v1h-8zM442 194h4v1h-4zM464 194h8v1h-8zM443 195h3v1h-3zM464 195h7v1h-7zM465 196h4v1h-4zM275 212h15v1h-15zM630 212h5v1h-5zM273 213h18v1h-18zM628 213h8v1h-8zM273 214h19v1h-19zM628 214h9v1h-9zM272 215h20v1h-20zM627 215h11v1h-11zM272 216h20v1h-20zM627 216h12v1h-12zM272 217h20v1h-20zM627 217h13v1h-13zM272 218h20v1h-20zM627 218h14v1h-14zM272 219h20v1h-20zM627 219h15v1h-15zM273 220h18v1h-18zM628 220h15v1h-15zM274 221h16v1h-16zM629 221h15v1h-15zM630 222h17v1h-17zM632 223h15v1h-15zM633 224h14v1h-14zM635 225h12v1h-12zM638 226h9v1h-9zM641 227h6v1h-6zM642 228h5v1h-5zM642 229h5v1h-5zM643 230h4v1h-4zM645 231h2v1h-2zM257 232h2v1h-2zM257 233h4v1h-4zM257 234h4v1h-4zM257 235h4v1h-4zM257 236h2v1h-2z"/>
<path fill="#0a28ff" d="M634 147h6v1h-6zM633 148h8v1h-8zM632 149h10v1h-10zM631 150h11v1h-11zM630 151h12v1h-12zM624 152h18v1h-18zM275 153h4v1h-4zM623 153h10v1h-10zM636 153h6v1h-6zM273 154h8v1h-8zM622 154h10v1h-10zM637 154h5v1h-5zM272 155h10v1h-10zM622 155h10v1h-10zM637 155h6v1h-6zM271 156h11v1h-11zM622 156h8v1h-8zM637 156h7v1h-7zM268 157h14v1h-14zM622 157h7v1h-7zM637 157h10v1h-10zM264 158h18v1h-18zM622 158h6v1h-6zM637 158h10v1h-10zM262 159h20v1h-20zM622 159h5v1h-5zM637 159h10v1h-10zM260 160h22v1h-22zM623 160h4v1h-4zM637 160h10v1h-10zM257 161h25v1h-25zM623 161h4v1h-4zM637 161h10v1h-10zM257 162h25v1h-25zM599 162h1v1h-1zM623 162h4v1h-4zM637 162h7v1h-7zM266 163h16v1h-16zM598 163h6v1h-6zM624 163h3v1h-3zM637 163h6v1h-6zM267 164h15v1h-15zM597 164h8v1h-8zM624 164h3v1h-3zM637 164h5v1h-5zM267 165h14v1h-14zM597 165h8v1h-8zM624 165h3v1h-3zM637 165h5v1h-5zM267 166h13v1h-13zM596 166h10v1h-10zM623 166h4v1h-4zM637 166h5v1h-5zM267 167h7v1h-7zM309 167h6v1h-6zM596 167h4v1h-4zM603 167h3v1h-3zM623 167h4v1h-4zM637 167h5v1h-5zM267 168h6v1h-6zM308 168h8v1h-8zM596 168h3v1h-3zM604 168h2v1h-2zM623 168h4v1h-4zM637 168h5v1h-5zM267 169h5v1h-5zM307 169h10v1h-10zM596 169h3v1h-3zM604 169h2v1h-2zM622 169h6v1h-6zM636 169h6v1h-6zM267 170h5v1h-5zM307 170h10v1h-10zM596 170h3v1h-3zM604 170h3v1h-3zM622 170h20v1h-20zM267 171h4v1h-4zM307 171h10v1h-10zM596 171h4v1h-4zM603 171h4v1h-4zM622 171h20v1h-20zM267 172h4v1h-4zM307 172h10v1h-10zM596 172h11v1h-11zM619 172h3v1h-3zM632 172h10v1h-10zM267 173h4v1h-4zM307 173h10v1h-10zM597 173h12v1h-12zM616 173h6v1h-6zM635 173h7v1h-7zM267 174h4v1h-4zM307 174h10v1h-10zM598 174h24v1h-24zM637 174h5v1h-5zM267 175h4v1h-4zM308 175h8v1h-8zM599 175h23v1h-23zM637 175h5v1h-5zM267 176h4v1h-4zM309 176h6v1h-6zM603 176h20v1h-20zM638 176h4v1h-4zM267 177h4v1h-4zM605 177h9v1h-9zM619 177h4v1h-4zM638 177h4v1h-4zM267 178h4v1h-4zM606 178h7v1h-7zM620 178h3v1h-3zM638 178h4v1h-4zM266 179h5v1h-5zM607 179h5v1h-5zM620 179h3v1h-3zM638 179h4v1h-4zM264 180h6v1h-6zM607 180h5v1h-5zM621 180h2v1h-2zM638 180h5v1h-5zM257 181h13v1h-13zM607 181h5v1h-5zM621 181h2v1h-2zM638 181h6v1h-6zM257 182h11v1h-11zM607 182h5v1h-5zM621 182h2v1h-2zM638 182h9v1h-9zM607 183h5v1h-5zM620 183h3v1h-3zM638 183h9v1h-9zM608 184h5v1h-5zM620 184h3v1h-3zM639 184h8v1h-8zM609 185h6v1h-6zM618 185h4v1h-4zM639 185h8v1h-8zM611 186h11v1h-11zM640 186h7v1h-7zM613 187h7v1h-7zM463 214h3v1h-3zM462 215h5v1h-5zM462 216h5v1h-5zM462 217h5v1h-5zM434 218h2v1h-2zM462 218h5v1h-5zM433 219h3v1h-3zM462 219h4v1h-4zM434 220h1v1h-1zM463 220h3v1h-3zM257 247h2v1h-2zM257 248h4v1h-4zM257 249h4v1h-4zM257 250h4v1h-4zM257 251h3v1h-3zM289 287h31v1h-31zM379 287h6v1h-6zM439 287h31v1h-31zM484 287h31v1h-31zM574 287h11v1h-11zM599 287h6v1h-6zM634 287h13v1h-13zM288 288h33v1h-33zM378 288h8v1h-8zM438 288h33v1h-33zM483 288h33v1h-33zM573 288h13v1h-13zM598 288h8v1h-8zM633 288h14v1h-14zM287 289h35v1h-35zM377 289h10v1h-10zM437 289h35v1h-35zM482 289h35v1h-35zM572 289h15v1h-15zM597 289h10v1h-10zM632 289h15v1h-15zM286 290h37v1h-37zM377 290h11v1h-11zM437 290h35v1h-35zM481 290h37v1h-37zM571 290h17v1h-17zM596 290h12v1h-12zM631 290h16v1h-16zM285 291h39v1h-39zM377 291h12v1h-12zM437 291h35v1h-35zM480 291h39v1h-39zM570 291h19v1h-19zM595 291h14v1h-14zM630 291h17v1h-17zM257 292h78v1h-78zM364 292h6v1h-6zM377 292h23v1h-23zM437 292h35v1h-35zM479 292h168v1h-168zM257 293h79v1h-79zM363 293h8v1h-8zM377 293h24v1h-24zM437 293h35v1h-35zM478 293h169v1h-169zM257 294h80v1h-80zM362 294h10v1h-10zM377 294h25v1h-25zM437 294h35v1h-35zM477 294h170v1h-170zM257 295h81v1h-81zM361 295h12v1h-12zM376 295h27v1h-27zM437 295h36v1h-36zM476 295h171v1h-171zM257 296h82v1h-82zM360 296h44v1h-44zM437 296h210v1h-210zM257 297h153v1h-153zM437 297h210v1h-210zM257 298h154v1h-154zM437 298h136v1h-136zM576 298h71v1h-71zM257 299h155v1h-155zM437 299h135v1h-135zM577 299h70v1h-70zM257 300h156v1h-156zM436 300h135v1h-135zM577 300h70v1h-70zM257 301h157v1h-157zM435 301h135v1h-135zM577 301h70v1h-70zM257 302h312v1h-312zM577 302h57v1h-57zM257 303h311v1h-311zM577 303h56v1h-56zM257 304h310v1h-310zM577 304h55v1h-55zM257 305h309v1h-309zM577 305h55v1h-55zM257 306h308v1h-308zM577 306h55v1h-55zM270 307h169v1h-169zM460 307h9v1h-9zM577 307h55v1h-55zM271 308h167v1h-167zM461 308h7v1h-7zM577 308h55v1h-55zM271 309h166v1h-166zM462 309h5v1h-5zM577 309h55v1h-55zM271 310h165v1h-165zM463 310h3v1h-3zM576 310h57v1h-57zM270 311h165v1h-165zM575 311h59v1h-59zM257 312h3v1h-3zM269 312h165v1h-165zM574 312h73v1h-73zM257 313h4v1h-4zM268 313h120v1h-120zM391 313h17v1h-17zM411 313h22v1h-22zM538 313h3v1h-3zM558 313h3v1h-3zM573 313h74v1h-74zM257 314h5v1h-5zM267 314h120v1h-120zM392 314h15v1h-15zM412 314h20v1h-20zM537 314h5v1h-5zM557 314h5v1h-5zM572 314h75v1h-75zM257 315h6v1h-6zM266 315h121v1h-121zM392 315h14v1h-14zM412 315h20v1h-20zM536 315h7v1h-7zM556 315h7v1h-7zM571 315h76v1h-76zM257 316h130v1h-130zM392 316h13v1h-13zM412 316h20v1h-20zM535 316h9v1h-9zM555 316h9v1h-9zM570 316h77v1h-77zM257 317h102v1h-102zM387 317h5v1h-5zM412 317h20v1h-20zM499 317h16v1h-16zM529 317h118v1h-118zM257 318h101v1h-101zM387 318h5v1h-5zM412 318h20v1h-20zM498 318h18v1h-18zM528 318h119v1h-119zM257 319h100v1h-100zM387 319h5v1h-5zM412 319h20v1h-20zM497 319h20v1h-20zM527 319h120v1h-120zM257 320h99v1h-99zM387 320h5v1h-5zM411 320h22v1h-22zM496 320h22v1h-22zM526 320h121v1h-121zM257 321h98v1h-98zM387 321h5v1h-5zM410 321h24v1h-24zM495 321h24v1h-24zM525 321h122v1h-122zM257 322h97v1h-97zM387 322h5v1h-5zM399 322h36v1h-36zM454 322h193v1h-193zM257 323h96v1h-96zM387 323h5v1h-5zM398 323h38v1h-38zM453 323h194v1h-194zM257 324h96v1h-96zM387 324h5v1h-5zM397 324h40v1h-40zM452 324h195v1h-195zM257 325h96v1h-96zM386 325h7v1h-7zM396 325h42v1h-42zM451 325h196v1h-196zM257 326h97v1h-97zM385 326h54v1h-54zM450 326h197v1h-197zM257 327h52v1h-52zM320 327h9v1h-9zM345 327h10v1h-10zM384 327h263v1h-263zM257 328h51v1h-51zM321 328h7v1h-7zM346 328h10v1h-10zM383 328h264v1h-264zM257 329h51v1h-51zM321 329h7v1h-7zM347 329h10v1h-10zM382 329h265v1h-265zM257 330h51v1h-51zM321 330h7v1h-7zM347 330h11v1h-11zM381 330h266v1h-266zM257 331h52v1h-52zM320 331h9v1h-9zM347 331h12v1h-12zM380 331h267v1h-267zM257 332h27v1h-27zM295 332h35v1h-35zM347 332h300v1h-300zM257 333h26v1h-26zM296 333h35v1h-35zM347 333h300v1h-300zM257 334h26v1h-26zM296 334h36v1h-36zM347 334h300v1h-300zM257 335h26v1h-26zM296 335h37v1h-37zM346 335h301v1h-301zM257 336h27v1h-27zM295 336h39v1h-39zM345 336h302v1h-302zM275 337h34v1h-34zM320 337h39v1h-39zM370 337h34v1h-34zM410 337h99v1h-99zM550 337h64v1h-64zM276 338h32v1h-32zM321 338h37v1h-37zM371 338h32v1h-32zM411 338h97v1h-97zM551 338h62v1h-62zM277 339h30v1h-30zM322 339h35v1h-35zM372 339h31v1h-31zM411 339h96v1h-96zM552 339h60v1h-60zM278 340h28v1h-28zM323 340h33v1h-33zM373 340h30v1h-30zM409 340h97v1h-97zM552 340h59v1h-59zM279 341h26v1h-26zM324 341h31v1h-31zM374 341h131v1h-131zM552 341h58v1h-58zM290 342h14v1h-14zM340 342h14v1h-14zM375 342h9v1h-9zM395 342h18v1h-18zM420 342h14v1h-14zM450 342h54v1h-54zM552 342h22v1h-22zM292 343h11v1h-11zM341 343h12v1h-12zM376 343h7v1h-7zM396 343h14v1h-14zM421 343h12v1h-12zM451 343h52v1h-52zM552 343h21v1h-21zM292 344h10v1h-10zM342 344h10v1h-10zM377 344h5v1h-5zM397 344h11v1h-11zM422 344h10v1h-10zM452 344h50v1h-50zM552 344h20v1h-20zM293 345h8v1h-8zM342 345h9v1h-9zM377 345h5v1h-5zM397 345h10v1h-10zM423 345h9v1h-9zM452 345h49v1h-49zM553 345h18v1h-18zM295 346h5v1h-5zM342 346h8v1h-8zM377 346h5v1h-5zM397 346h10v1h-10zM424 346h8v1h-8zM452 346h48v1h-48zM554 346h16v1h-16zM342 347h7v1h-7zM377 347h5v1h-5zM397 347h10v1h-10zM425 347h7v1h-7zM452 347h12v1h-12zM485 347h14v1h-14zM555 347h14v1h-14zM342 348h6v1h-6zM377 348h5v1h-5zM397 348h10v1h-10zM426 348h6v1h-6zM452 348h11v1h-11zM486 348h12v1h-12zM518 348h3v1h-3zM556 348h12v1h-12zM342 349h5v1h-5zM377 349h4v1h-4zM397 349h10v1h-10zM427 349h5v1h-5zM452 349h10v1h-10zM487 349h10v1h-10zM518 349h3v1h-3zM557 349h10v1h-10zM342 350h5v1h-5zM378 350h3v1h-3zM397 350h9v1h-9zM428 350h3v1h-3zM453 350h9v1h-9zM488 350h8v1h-8zM518 350h3v1h-3zM558 350h8v1h-8zM342 351h5v1h-5zM398 351h7v1h-7zM454 351h8v1h-8zM489 351h6v1h-6zM559 351h6v1h-6zM342 352h5v1h-5zM398 352h6v1h-6zM455 352h7v1h-7zM342 353h5v1h-5zM398 353h5v1h-5zM438 353h3v1h-3zM456 353h6v1h-6zM342 354h5v1h-5zM398 354h5v1h-5zM438 354h3v1h-3zM457 354h4v1h-4zM342 355h5v1h-5zM398 355h5v1h-5zM438 355h3v1h-3zM458 355h3v1h-3zM342 356h5v1h-5zM397 356h7v1h-7zM342 357h5v1h-5zM396 357h9v1h-9zM519 357h5v1h-5zM342 358h5v1h-5zM395 358h11v1h-11zM518 358h7v1h-7zM342 359h5v1h-5zM394 359h13v1h-13zM518 359h7v1h-7zM343 360h3v1h-3zM393 360h14v1h-14zM518 360h6v1h-6zM343 361h3v1h-3zM393 361h14v1h-14zM309 362h7v1h-7zM343 362h3v1h-3zM393 362h14v1h-14zM575 362h4v1h-4zM308 363h11v1h-11zM343 363h3v1h-3zM392 363h15v1h-15zM574 363h6v1h-6zM307 364h14v1h-14zM343 364h3v1h-3zM392 364h15v1h-15zM574 364h6v1h-6zM306 365h16v1h-16zM344 365h2v1h-2zM392 365h15v1h-15zM573 365h8v1h-8zM306 366h17v1h-17zM344 366h2v1h-2zM392 366h15v1h-15zM573 366h8v1h-8zM638 366h9v1h-9zM304 367h20v1h-20zM343 367h3v1h-3zM392 367h15v1h-15zM573 367h8v1h-8zM636 367h11v1h-11zM257 368h8v1h-8zM303 368h22v1h-22zM343 368h3v1h-3zM374 368h12v1h-12zM392 368h15v1h-15zM425 368h4v1h-4zM518 368h2v1h-2zM572 368h10v1h-10zM634 368h6v1h-6zM257 369h10v1h-10zM277 369h5v1h-5zM302 369h23v1h-23zM343 369h4v1h-4zM372 369h15v1h-15zM392 369h15v1h-15zM423 369h8v1h-8zM517 369h3v1h-3zM572 369h10v1h-10zM632 369h6v1h-6zM257 370h11v1h-11zM275 370h9v1h-9zM302 370h24v1h-24zM343 370h4v1h-4zM370 370h18v1h-18zM392 370h15v1h-15zM423 370h9v1h-9zM516 370h5v1h-5zM572 370h10v1h-10zM631 370h6v1h-6zM257 371h31v1h-31zM300 371h26v1h-26zM343 371h4v1h-4zM366 371h23v1h-23zM392 371h15v1h-15zM422 371h10v1h-10zM515 371h6v1h-6zM572 371h10v1h-10zM630 371h6v1h-6zM264 372h62v1h-62zM343 372h4v1h-4zM354 372h38v1h-38zM395 372h12v1h-12zM421 372h11v1h-11zM513 372h8v1h-8zM572 372h10v1h-10zM589 372h46v1h-46zM265 373h61v1h-61zM343 373h4v1h-4zM353 373h18v1h-18zM376 373h15v1h-15zM397 373h10v1h-10zM419 373h13v1h-13zM506 373h15v1h-15zM545 373h8v1h-8zM572 373h10v1h-10zM588 373h46v1h-46zM265 374h61v1h-61zM343 374h3v1h-3zM353 374h16v1h-16zM376 374h15v1h-15zM398 374h8v1h-8zM418 374h13v1h-13zM504 374h17v1h-17zM539 374h16v1h-16zM573 374h8v1h-8zM588 374h46v1h-46zM263 375h61v1h-61zM353 375h36v1h-36zM400 375h4v1h-4zM418 375h12v1h-12zM504 375h15v1h-15zM548 375h3v1h-3zM575 375h4v1h-4zM591 375h56v1h-56zM257 376h64v1h-64zM354 376h32v1h-32zM419 376h9v1h-9zM505 376h10v1h-10zM604 376h21v1h-21zM632 376h15v1h-15zM257 377h11v1h-11zM271 377h7v1h-7zM281 377h7v1h-7zM366 377h12v1h-12zM421 377h5v1h-5z"/>
<path fill="#0000b4" d="M633 153h3v1h-3zM632 154h5v1h-5zM632 155h5v1h-5zM630 156h7v1h-7zM629 157h8v1h-8zM628 158h9v1h-9zM627 159h10v1h-10zM627 160h10v1h-10zM627 161h10v1h-10zM627 162h10v1h-10zM644 162h3v1h-3zM257 163h9v1h-9zM627 163h10v1h-10zM643 163h4v1h-4zM257 164h10v1h-10zM627 164h10v1h-10zM642 164h5v1h-5zM257 165h10v1h-10zM627 165h10v1h-10zM642 165h5v1h-5zM257 166h10v1h-10zM627 166h10v1h-10zM642 166h5v1h-5zM257 167h10v1h-10zM600 167h3v1h-3zM627 167h10v1h-10zM642 167h5v1h-5zM257 168h10v1h-10zM599 168h5v1h-5zM627 168h10v1h-10zM642 168h5v1h-5zM257 169h10v1h-10zM599 169h5v1h-5zM628 169h8v1h-8zM642 169h5v1h-5zM257 170h10v1h-10zM599 170h5v1h-5zM642 170h5v1h-5zM257 171h10v1h-10zM600 171h3v1h-3zM642 171h5v1h-5zM260 172h7v1h-7zM642 172h5v1h-5zM261 173h6v1h-6zM642 173h5v1h-5zM261 174h6v1h-6zM642 174h5v1h-5zM261 175h6v1h-6zM642 175h5v1h-5zM260 176h7v1h-7zM642 176h5v1h-5zM257 177h10v1h-10zM614 177h5v1h-5zM642 177h5v1h-5zM257 178h10v1h-10zM613 178h7v1h-7zM642 178h5v1h-5zM257 179h9v1h-9zM612 179h8v1h-8zM642 179h5v1h-5zM257 180h7v1h-7zM612 180h9v1h-9zM643 180h4v1h-4zM612 181h9v1h-9zM644 181h3v1h-3zM612 182h9v1h-9zM612 183h8v1h-8zM613 184h7v1h-7zM615 185h3v1h-3zM573 298h3v1h-3zM572 299h5v1h-5zM571 300h6v1h-6zM570 301h7v1h-7zM569 302h8v1h-8zM634 302h13v1h-13zM568 303h9v1h-9zM633 303h14v1h-14zM567 304h10v1h-10zM632 304h15v1h-15zM566 305h11v1h-11zM632 305h15v1h-15zM565 306h12v1h-12zM632 306h15v1h-15zM257 307h13v1h-13zM439 307h21v1h-21zM469 307h108v1h-108zM632 307h15v1h-15zM257 308h14v1h-14zM438 308h23v1h-23zM468 308h109v1h-109zM632 308h15v1h-15zM257 309h14v1h-14zM437 309h25v1h-25zM467 309h110v1h-110zM632 309h15v1h-15zM257 310h14v1h-14zM436 310h27v1h-27zM466 310h110v1h-110zM633 310h14v1h-14zM257 311h13v1h-13zM435 311h140v1h-140zM634 311h13v1h-13zM260 312h9v1h-9zM434 312h140v1h-140zM261 313h7v1h-7zM388 313h3v1h-3zM408 313h3v1h-3zM433 313h105v1h-105zM541 313h17v1h-17zM561 313h12v1h-12zM262 314h5v1h-5zM387 314h5v1h-5zM407 314h5v1h-5zM432 314h105v1h-105zM542 314h15v1h-15zM562 314h10v1h-10zM263 315h3v1h-3zM387 315h5v1h-5zM406 315h6v1h-6zM432 315h104v1h-104zM543 315h13v1h-13zM563 315h8v1h-8zM387 316h5v1h-5zM405 316h7v1h-7zM432 316h103v1h-103zM544 316h11v1h-11zM564 316h6v1h-6zM359 317h28v1h-28zM392 317h20v1h-20zM432 317h67v1h-67zM515 317h14v1h-14zM358 318h29v1h-29zM392 318h20v1h-20zM432 318h66v1h-66zM516 318h12v1h-12zM357 319h30v1h-30zM392 319h20v1h-20zM432 319h65v1h-65zM517 319h10v1h-10zM356 320h31v1h-31zM392 320h19v1h-19zM433 320h63v1h-63zM518 320h8v1h-8zM355 321h32v1h-32zM392 321h18v1h-18zM434 321h61v1h-61zM519 321h6v1h-6zM354 322h33v1h-33zM392 322h7v1h-7zM435 322h19v1h-19zM353 323h34v1h-34zM392 323h6v1h-6zM436 323h17v1h-17zM353 324h34v1h-34zM392 324h5v1h-5zM437 324h15v1h-15zM353 325h33v1h-33zM393 325h3v1h-3zM438 325h13v1h-13zM354 326h31v1h-31zM439 326h11v1h-11zM309 327h11v1h-11zM329 327h16v1h-16zM355 327h29v1h-29zM308 328h13v1h-13zM328 328h18v1h-18zM356 328h27v1h-27zM308 329h13v1h-13zM328 329h19v1h-19zM357 329h25v1h-25zM308 330h13v1h-13zM328 330h19v1h-19zM358 330h23v1h-23zM309 331h11v1h-11zM329 331h18v1h-18zM359 331h21v1h-21zM284 332h11v1h-11zM330 332h17v1h-17zM283 333h13v1h-13zM331 333h16v1h-16zM283 334h13v1h-13zM332 334h15v1h-15zM283 335h13v1h-13zM333 335h13v1h-13zM284 336h11v1h-11zM334 336h11v1h-11zM404 337h6v1h-6zM403 338h8v1h-8zM403 339h8v1h-8zM403 340h6v1h-6zM640 368h7v1h-7zM638 369h9v1h-9zM637 370h10v1h-10zM636 371h11v1h-11zM257 372h7v1h-7zM635 372h12v1h-12zM257 373h8v1h-8zM371 373h5v1h-5zM634 373h13v1h-13zM257 374h8v1h-8zM369 374h7v1h-7zM634 374h13v1h-13zM257 375h6v1h-6z"/>
<path fill="#6e00b4" d="M257 172h3v1h-3zM257 173h4v1h-4zM257 174h4v1h-4zM257 175h4v1h-4zM257 176h3v1h-3z"/>
</g>
<g fill="#000">
<rect x="271" y="132" width="1" height="4"/>
<rect x="271" y="387" width="1" height="4"/>
<rect x="286" y="132" width="1" height="4"/>
<rect x="286" y="387" width="1" height="4"/>
<rect x="301" y="132" width="1" height="4"/>
<rect x="301" y="387" width="1" height="4"/>
<rect x="317" y="132" width="1" height="4"/>
<rect x="317" y="387" width="1" height="4"/>
<rect x="331" y="132" width="2" height="9"/>
<rect x="331" y="382" width="2" height="9"/>
<rect x="347" y="132" width="1" height="4"/>
<rect x="347" y="387" width="1" height="4"/>
<rect x="363" y="132" width="1" height="4"/>
<rect x="363" y="387" width="1" height="4"/>
<rect x="378" y="132" width="1" height="4"/>
<rect x="378" y="387" width="1" height="4"/>
<rect x="393" y="132" width="1" height="4"/>
<rect x="393" y="387" width="1" height="4"/>
<rect x="408" y="132" width="2" height="9"/>
<rect x="408" y="382" width="2" height="9"/>
<rect x="424" y="132" width="1" height="4"/>
<rect x="424" y="387" width="1" height="4"/>
<rect x="439" y="132" width="1" height="4"/>
<rect x="439" y="387" width="1" height="4"/>
<rect x="455" y="132" width="1" height="4"/>
<rect x="455" y="387" width="1" height="4"/>
<rect x="470" y="132" width="1" height="4"/>
<rect x="470" y="387" width="1" height="4"/>
<rect x="485" y="132" width="2" height="9"/>
<rect x="485" y="382" width="2" height="9"/>
<rect x="501" y="132" width="1" height="4"/>
<rect x="501" y="387" width="1" height="4"/>
<rect x="516" y="132" width="1" height="4"/>
<rect x="516" y="387" width="1" height="4"/>
<rect x="532" y="132" width="1" height="4"/>
<rect x="532" y="387" width="1" height="4"/>
<rect x="547" y="132" width="1" height="4"/>
<rect x="547" y="387" width="1" height="4"/>
<rect x="561" y="132" width="2" height="9"/>
<rect x="561" y="382" width="2" height="9"/>
<rect x="578" y="132" width="1" height="4"/>
<rect x="578" y="387" width="1" height="4"/>
<rect x="593" y="132" width="1" height="4"/>
<rect x="593" y="387" width="1" height="4"/>
<rect x="608" y="132" width="1" height="4"/>
<rect x="608" y="387" width="1" height="4"/>
<rect x="624" y="132" width="1" height="4"/>
<rect x="624" y="387" width="1" height="4"/>
<rect x="638" y="132" width="2" height="9"/>
<rect x="638" y="382" width="2" height="9"/>
<rect x="257" y="376" width="4" height="1"/>
<rect x="643" y="376" width="4" height="1"/>
<rect x="257" y="358" width="4" height="1"/>
<rect x="643" y="358" width="4" height="1"/>
<rect x="257" y="341" width="4" height="1"/>
<rect x="643" y="341" width="4" height="1"/>
<rect x="257" y="323" width="4" height="1"/>
<rect x="643" y="323" width="4" height="1"/>
<rect x="257" y="305" width="9" height="2"/>
<rect x="638" y="305" width="9" height="2"/>
<rect x="257" y="288" width="4" height="1"/>
<rect x="643" y="288" width="4" height="1"/>
<rect x="257" y="270" width="4" height="1"/>
<rect x="643" y="270" width="4" height="1"/>
<rect x="257" y="253" width="4" height="1"/>
<rect x="643" y="253" width="4" height="1"/>
<rect x="257" y="235" width="4" height="1"/>
<rect x="643" y="235" width="4" height="1"/>
<rect x="257" y="217" width="9" height="2"/>
<rect x="638" y="217" width="9" height="2"/>
<rect x="257" y="200" width="4" height="1"/>
<rect x="643" y="200" width="4" height="1"/>
<rect x="257" y="182" width="4" height="1"/>
<rect x="643" y="182" width="4" height="1"/>
<rect x="257" y="165" width="4" height="1"/>
<rect x="643" y="165" width="4" height="1"/>
<rect x="257" y="147" width="4" height="1"/>
<rect x="643" y="147" width="4" height="1"/>
</g>
<rect x="256" y="131" width="392" height="261" fill="none" stroke="#000" stroke-width="2"/>
<polygon points="670.5,166 677,196 664,196" fill="#ffdcdc" stroke="#000" stroke-width="2" stroke-linejoin="miter"/>
<rect x="663" y="195" width="15" height="197" fill="#000"/>
<rect x="665" y="197" width="11" height="17" fill="#ffb4b4"/>
<rect x="665" y="216" width="11" height="15" fill="#ff7878"/>
<rect x="665" y="233" width="11" height="15" fill="#ff1414"/>
<rect x="665" y="250" width="11" height="15" fill="#ff6400"/>
<rect x="665" y="267" width="11" height="6" fill="#ff9b00"/>
<rect x="665" y="275" width="11" height="6" fill="#ffcd00"/>
<rect x="665" y="283" width="11" height="7" fill="#f0ff00"/>
<rect x="665" y="292" width="11" height="6" fill="#00ff4b"/>
<rect x="665" y="300" width="11" height="7" fill="#00f0ff"/>
<rect x="665" y="309" width="11" height="6" fill="#0a28ff"/>
<rect x="665" y="317" width="11" height="15" fill="#0000b4"/>
<rect x="665" y="334" width="11" height="15" fill="#6e00b4"/>
<rect x="665" y="351" width="11" height="15" fill="#b400b4"/>
<rect x="665" y="368" width="11" height="23" fill="#f000b4"/>
<g shape-rendering="auto">
<text x="173.5" y="84.5" font-size="29" textLength="556.5" lengthAdjust="spacingAndGlyphs" stroke="#fff" stroke-width="0.6">disturbunce of potential temperature</text>
<g stroke="#fff" stroke-width="0.3">
<text transform="translate(218.5,340.8) rotate(-90)" font-size="23.5" textLength="159.5" lengthAdjust="spacingAndGlyphs">Z−coordinate</text>
<text x="371.3" y="468.7" font-size="23.5" textLength="160.5" lengthAdjust="spacingAndGlyphs">X−coordinate</text>
</g>
<text x="655" y="142.6" font-size="16.5" textLength="90" lengthAdjust="spacingAndGlyphs" stroke="#fff" stroke-width="0.25">t=95400 s</text>
<g font-size="16" stroke="#000" stroke-width="0.3">
<text x="163.5" y="108.3" textLength="88.5" lengthAdjust="spacingAndGlyphs">(x1E4 m)</text>
<text x="566.3" y="437.7" textLength="89" lengthAdjust="spacingAndGlyphs">(x1E5 m)</text>
</g>
<g font-size="18" text-anchor="middle" stroke="#000" stroke-width="0.45">
<text x="333" y="414.9">1</text>
<text x="409.3" y="415.2" textLength="10" lengthAdjust="spacingAndGlyphs">2</text>
<text x="486.6" y="415.2" textLength="10.5" lengthAdjust="spacingAndGlyphs">3</text>
<text x="562.3" y="415.2" textLength="10.5" lengthAdjust="spacingAndGlyphs">4</text>
<text x="637.9" y="415.2" textLength="10.5" lengthAdjust="spacingAndGlyphs">5</text>
<text x="240.2" y="223.7">2</text>
<text x="239.5" y="311.9">1</text>
</g>
<g font-size="17.5" stroke="#000" stroke-width="0.45">
<text x="686.5" y="238" textLength="9.5" lengthAdjust="spacingAndGlyphs">7</text>
<text x="686.5" y="280.6" textLength="9.5" lengthAdjust="spacingAndGlyphs">2</text>
<text x="686.5" y="304.6" textLength="20" lengthAdjust="spacingAndGlyphs">−1</text>
<text x="686.5" y="338.8" textLength="23" lengthAdjust="spacingAndGlyphs">−5</text>
<text x="686.5" y="397.9" textLength="33" lengthAdjust="spacingAndGlyphs">−12</text>
</g>
</g>
</svg>
</body></html>
